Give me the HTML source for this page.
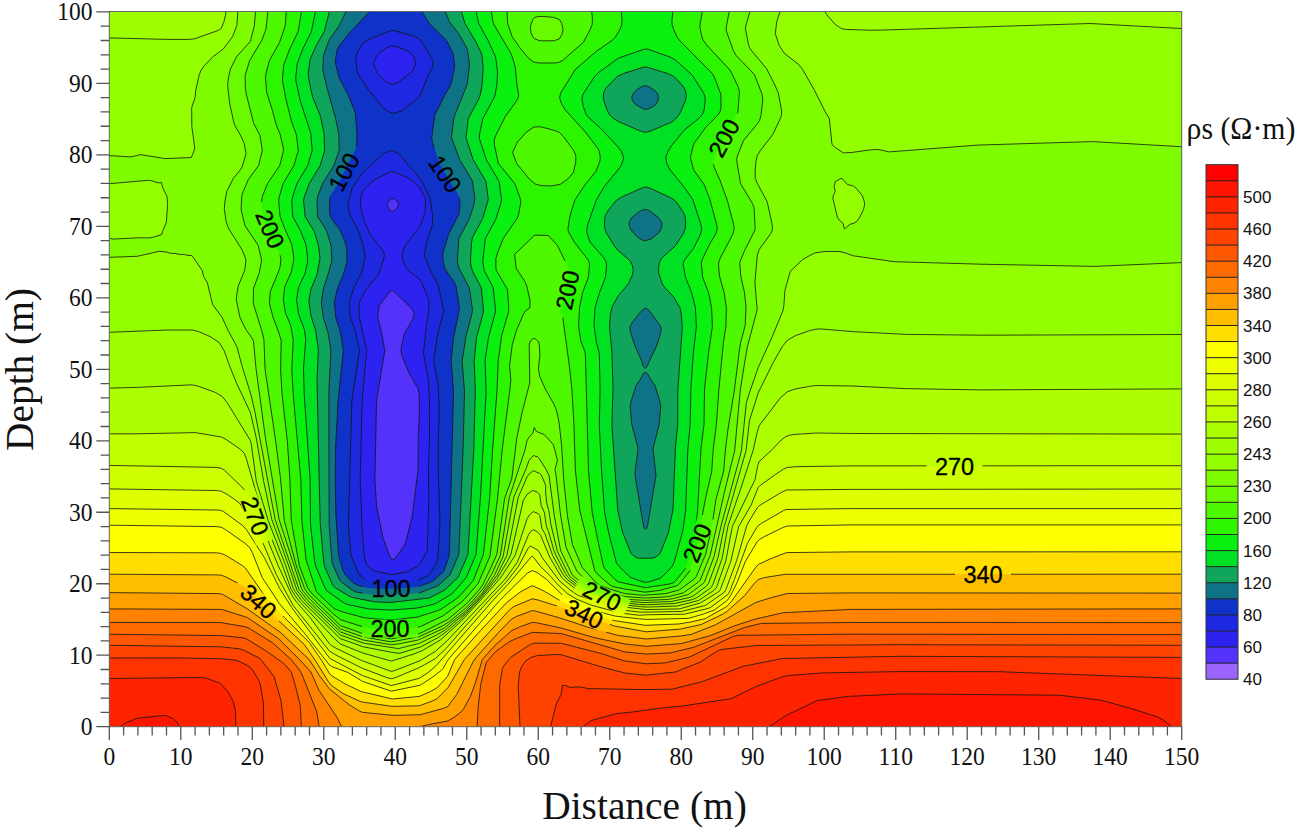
<!DOCTYPE html>
<html><head><meta charset="utf-8"><title>plot</title><style>
html,body{margin:0;padding:0;background:#fff}
body{width:1298px;height:832px;overflow:hidden;position:relative}
svg{position:absolute;left:0;top:0;display:block}
.tk{font-family:"Liberation Serif",serif;font-size:23.5px;fill:#111}
.ttl{font-family:"Liberation Serif",serif;font-size:39.4px;fill:#111}
.cbt{font-family:"Liberation Serif",serif;font-size:32px;fill:#111}
.cbl{font-family:"Liberation Sans",sans-serif;font-size:17px;fill:#111}
.cl{font-family:"Liberation Sans",sans-serif;font-size:23.5px;fill:#000;stroke:#000;stroke-width:0.3px}
</style></head><body>
<svg width="1298" height="832" viewBox="0 0 1298 832">
<defs><clipPath id="pc"><rect x="109.3" y="11.5" width="1072.4" height="715.2"/></clipPath>
<mask id="lm" maskUnits="userSpaceOnUse" x="0" y="0" width="1298" height="832"><rect x="0" y="0" width="1298" height="832" fill="#fff"/><rect x="926.6" y="457.6" width="56" height="18" fill="#000" transform="rotate(0 954.6 466.6)"/><rect x="955.0" y="566.0" width="56" height="18" fill="#000" transform="rotate(0 983 575)"/><rect x="227.0" y="507.0" width="56" height="18" fill="#000" transform="rotate(70 255 516)"/><rect x="230.5" y="592.5" width="56" height="18" fill="#000" transform="rotate(42 258.5 601.5)"/><rect x="316.0" y="163.0" width="56" height="18" fill="#000" transform="rotate(-62 344 172)"/><rect x="417.0" y="165.0" width="56" height="18" fill="#000" transform="rotate(56 445 174)"/><rect x="242.0" y="220.0" width="56" height="18" fill="#000" transform="rotate(67 270 229)"/><rect x="363.0" y="579.5" width="56" height="18" fill="#000" transform="rotate(0 391 588.5)"/><rect x="362.0" y="619.6" width="56" height="18" fill="#000" transform="rotate(0 390 628.6)"/><rect x="696.0" y="129.0" width="56" height="18" fill="#000" transform="rotate(-62 724 138)"/><rect x="539.5" y="281.0" width="56" height="18" fill="#000" transform="rotate(-78 567.5 290)"/><rect x="669.0" y="534.0" width="56" height="18" fill="#000" transform="rotate(-68 697 543)"/><rect x="574.0" y="587.0" width="56" height="18" fill="#000" transform="rotate(26 602 596)"/><rect x="556.0" y="605.0" width="56" height="18" fill="#000" transform="rotate(26 584 614)"/></mask></defs>
<g clip-path="url(#pc)">
<rect x="109.3" y="11.5" width="1072.4" height="715.2" fill="#5532fa"/>
<path fill="#2d23f0" d="M109.3 11.5L1181.3 11.5L1181.3 726.5L109.3 726.5L109.3 11.5ZM391.3 199L388.4 201.5L387.5 203.5L387.4 205.5L389.3 209.8L391.3 211.5L392.3 211.5L396 209.5L397.9 206.5L398.4 204.5L397.9 202.5L395.3 199.3L393.3 198.5L391.3 199ZM390.3 291.1L379.3 305.5L377.8 314.5L377.9 317.5L381.9 334.5L384.8 350.5L376.5 400.5L374.9 479.5L376.6 506.5L383.2 538.5L389.9 556.5L391.3 558.9L392.3 559.6L394.3 558.9L395.8 557.5L405 544.5L411.9 518.5L418.1 469.5L418.2 438.5L419.3 414.5L419.3 395.5L418.3 389L408.8 372.5L402.3 356.8L401 351.5L401.3 347L404.4 333.5L412.7 319.5L414.3 313.5L411.7 308.5L400.3 297.2L393.3 291.1L392.3 290.6L390.3 291.1Z"/>
<path fill="#1e28e1" d="M109.3 11.5L1181.3 11.5L1181.3 726.5L109.3 726.5L109.3 11.5ZM390.3 46.3L385.4 48.5L380.3 52.1L375.9 57.5L373.7 62.5L374.7 67.5L378.2 74.5L386.3 81.9L392.3 84.4L398.3 82.3L411.3 72.3L413.3 69.5L415.1 64.5L415.3 62.5L414.3 57.5L411.1 53.5L408.8 51.5L396.3 46.7L392.3 46L390.3 46.3ZM391.3 171.3L375.5 179.5L370 183.5L362.9 190.5L360.9 196.5L360.2 205.5L364.3 220.9L370.3 234.7L383 250.5L384.1 253.5L384.4 256.5L378.8 274.5L366.9 288.5L360.1 300.5L359.2 303.5L359.1 312.5L359.4 317.5L366.7 350.5L362.1 400.5L360.2 479.5L362.3 532.2L364.3 554.7L365.1 559.5L366.8 564.5L370.7 568.5L376.3 571.5L391.3 574.6L407.3 571.8L416.8 566.5L419.4 564.5L421.3 561.9L427.3 550.2L428.8 501.5L428.4 469.5L429.5 438.5L429.6 413.5L429.5 401.5L428.3 379.5L423.4 353.5L425.7 331.5L428.7 309.5L429 300.5L421.3 281.5L417.6 277.5L410.3 272.4L405.3 266.5L403.3 261.9L402.2 255.5L402.8 251.5L405.3 244.9L414.3 233.7L419.3 226.7L421.3 223L425.3 211.2L425.5 199.5L424.3 196.2L419.3 187L413.4 181.5L407.1 177.5L394.3 171.9L391.3 171.3Z"/>
<path fill="#0f32c8" d="M109.3 11.5L1181.3 11.5L1181.3 726.5L109.3 726.5L109.3 11.5ZM391.3 30.4L372.3 38.1L364.3 42.2L361.3 45.7L356.9 53.5L356 55.5L355.8 58.5L356.8 69.5L357.8 73.5L368.9 90.5L384.3 108.9L389.3 112L393.3 113.5L402.3 110.7L416.3 99.6L419.3 96.6L421.3 93L426.3 79.9L432.2 67.5L433.1 63.5L432.2 59.5L428.9 53.5L421.5 41.5L418.8 38.5L413.3 36L395.3 31L391.3 30.4ZM389.3 151.3L384.3 153.2L382.3 154.5L362.8 172.5L352.4 187.5L348.1 203.5L348.2 206.5L349.9 214.5L358.4 230.5L363.1 245.5L365.3 256.5L361.7 272.5L353.9 287.5L349.4 302.5L350.1 316.5L355.3 330.7L359.5 350.5L351.9 400.5L348.4 524.5L351.1 555.5L358.4 573.5L364.9 579.5L368.1 581.5L391.3 584.5L415.1 581.5L428.1 575.5L431.3 572.1L436.5 562.5L437.9 558.5L439.9 520.5L438.2 469.5L438.2 442.5L439.3 413.5L438.2 385.5L433.7 360.5L437 337.5L443.8 310.5L438.2 285.5L429.9 269.5L424.5 255.5L424.5 252.5L427.1 240.5L432.5 224.5L432.5 214.5L430.1 198.5L421.6 180.5L400.3 155.5L397.3 152.8L392.3 150.7L391.3 150.5L389.3 151.3Z"/>
<path fill="#0f7387" d="M109.3 11.5L369.7 11.5L348.3 34.2L338.7 46.5L337.2 49.5L335.3 60.5L335.7 64.5L339 77.5L347.9 94.5L355.3 112.5L357 134.5L356.5 145.5L355.9 148.5L340.3 179.5L330.5 195.5L329.6 199.5L329.6 212.5L330.3 216.3L332.1 219.5L340.3 230.4L344.9 241.5L346.4 246.5L347 258.5L346.7 262.5L343.3 274.5L337 289.5L334.4 302.5L335.7 317.5L340.4 332.5L343.3 350.5L338.2 399.5L335.5 449.5L335.2 480.5L335.9 515.5L338.6 555.5L343.3 571.3L345 574.5L353.3 582.9L357.3 585.1L369.3 588.2L391.3 588.8L417.3 587L432.3 581.6L443.7 571.5L448.3 558.5L449.4 553.5L453.5 391.5L451.2 360.5L453.6 337.5L459 311.5L459.4 307.5L455.9 285.5L454.4 282.5L445.3 269.5L443.2 262.5L442.8 255.5L443.6 250.5L448.5 234.5L458.8 214.5L460.1 202.5L459.4 197.5L457.5 193.5L451 183.5L439.9 164.5L432.8 143.5L431.7 138.5L434.7 115.5L444.6 95.5L450.9 84.5L454.3 69.3L454.6 64.5L453 53.5L446.5 40.5L429.3 23.5L421.8 11.5L1181.3 11.5L1181.3 726.5L109.3 726.5L109.3 11.5Z"/>
<path fill="#0fa55a" d="M109.3 11.5L346 11.5L338.7 26.5L329.4 39.5L323.4 55.5L322.8 70.5L327.7 90.5L335.9 119.5L338.7 133.5L339.3 149.5L334 165.5L323 182.5L317.7 196.5L317.1 200.5L317.5 216.5L325.2 228.5L327.1 232.5L331 245.5L331.7 258.5L331.6 261.5L328.9 271.5L323.3 289.1L321.3 302.5L323.3 317.5L328 332.5L330.9 350.5L328.9 390.5L328.9 450.5L329.2 524.5L331.5 556.5L332.3 563.5L339.4 579.5L342.1 582.5L353.3 590.8L356.3 592L375.3 595.3L390.3 595.9L419.3 593L438.3 585.6L450.2 574.5L458.8 554.5L463.1 449.5L464.5 391.5L462.2 361.5L465.7 337.5L472 313.5L472.5 309.5L469.2 287.5L459.6 269.5L457.7 263.5L457.5 258.5L458.9 238.5L469.6 218.5L474.5 202.5L475 198.5L472.3 180.8L459.6 159.5L451.5 137.5L453.9 117.5L467.2 84.5L469.5 65.5L468.3 55.2L467.3 49.5L466.1 46.5L458.5 33.5L449.3 21.5L445.3 11.5L1181.3 11.5L1181.3 726.5L109.3 726.5L109.3 11.5ZM642.3 86.4L637.3 89.3L634.9 91.5L632.6 94.5L631.9 96.5L631.8 98.5L633.5 102.5L635.6 104.5L642.3 108.4L645.3 109.4L647.3 109.2L652.3 107.1L655.8 104.5L658 100.5L658.4 96.5L657.4 93.5L656 91.5L650.3 87.5L646.3 85.7L642.3 86.4ZM644.3 209.4L640.3 210.9L631.8 217.5L629.5 221.5L628.9 224.5L630.7 229.5L633 232.5L639.3 238.4L642.3 240.1L645.3 240.8L651.3 238.9L659 232.5L661.3 228.5L662.1 223.5L660.3 219.5L658.4 217.5L649.3 210.7L646.3 209.5L644.3 209.4ZM644.3 308.5L640.9 311.5L632.3 322.5L630.4 325.5L629.8 327.5L630.4 331.5L634.8 345.5L641.3 360.1L643.3 366.3L645.3 368.5L647.3 366.2L649.3 361L656.4 346.5L660.6 333.5L661.3 329.5L661 327.5L659.4 324.5L649.2 310.5L646.3 308.2L644.3 308.5ZM645.3 372.4L644.3 372.6L644 373.5L643.3 373.7L639.6 380.5L636 385.5L630.8 402.5L630.2 406.5L631.8 424.5L638.1 448.5L635.1 471.5L635 475.5L643.6 526.5L644.3 528.5L645.3 529.3L646.6 528.5L647.6 525.5L656 475.5L653 448.5L659.2 424.5L660.7 406.5L660.2 402.5L655 385.5L651.3 380.5L648.3 375L646.3 372.6L645.3 372.4Z"/>
<path fill="#00e123" d="M109.3 11.5L329.3 11.5L324.3 31.4L315.7 46.5L310 59.5L308.2 74.5L308.6 78.5L312.4 96.5L320.5 116.5L324 133.5L324.6 150.5L320.2 165.5L309.3 183.4L304.4 196.5L303.5 200.5L305.1 216.5L314.3 231.5L318.5 245.5L320 258.5L317 274.5L310.8 289.5L308.8 301.5L311.1 316.5L315.6 330.5L318.4 349.5L317 380.5L320.2 523.5L323.7 562.5L324.6 566.5L332.8 585.5L334.9 587.5L348.3 595.7L352.3 597.5L375.3 601.9L390.3 602.5L429.3 598L444.3 590.3L458 577.5L468 554.5L473.8 449.5L475.3 390.5L474.2 360.5L476.6 337.5L483 313.5L483.5 309.5L481.2 287.5L472.7 271.5L471.1 266.5L470.5 261.5L471.5 242.5L472.5 237.5L482.7 218.5L488.3 199.5L486 181.5L473.1 159.5L466 137.5L468.3 118.5L479 98.5L480.4 94.5L482.1 84.5L483.2 68.5L482.2 56.5L481.1 52.5L475.2 40.5L465 23.5L461.3 11.5L1181.3 11.5L1181.3 726.5L109.3 726.5L109.3 11.5ZM643.3 67.3L623.4 73.5L617.3 76.4L605.6 88.5L603.7 92.5L603.2 97.5L604 101.5L607.7 111.5L609.3 114.5L612.3 117.5L618.3 121.5L640.3 131L645.3 132.3L650.3 131.2L670.7 122.5L673.9 120.5L678.5 115.5L680.3 112.5L685.3 101.1L686.3 95.5L685.7 91.5L684.1 87.5L677.1 79.5L673.3 76.1L667.7 73.5L648.3 67.5L645.3 67L643.3 67.3ZM643.3 187.4L621.3 197.2L616.3 200.3L608.3 210.4L605.3 215.5L604.6 219.5L604.5 225.5L605 229.5L606.1 232.5L614.3 245.8L617.3 249.8L628.3 259.2L630.4 261.5L632.4 265.5L633.2 270.5L632.1 275.5L628.6 283.5L618.3 295.7L612.2 306.5L610.7 312.5L609.5 325.5L611.9 352.5L613 387.5L611.9 425.5L617.8 510.5L622.6 532.5L631.3 553.8L635.3 557L638.3 558.2L652.3 558.2L655.3 557.3L658.3 555.2L660.3 552.9L661.3 550.6L668.3 532.9L673 509.5L675.4 448.5L677.7 424.5L677.9 389.5L682.3 327.5L681.1 312.5L679.9 307.5L673.3 296.4L665.6 288.5L662.6 284.5L658.8 273.5L658.5 267.5L659.4 262.5L661.4 258.5L675.3 245.9L683.4 233.5L685.3 228.8L685.6 220.5L684.9 215.5L683.5 212.5L677.3 203.4L674.3 200L670.2 197.5L649.3 187.9L646.3 187.1L643.3 187.4Z"/>
<path fill="#0af00f" d="M109.3 11.5L315.4 11.5L311.4 31.5L303 48.5L297.2 63.5L295.7 77.5L296 81.5L300.2 100.5L310.8 133.5L312.2 150.5L307.7 165.5L296.9 183.5L292.4 197.5L291.8 201.5L292.7 216.5L300.3 230.5L305.5 243.5L306.4 247.5L307.6 258.5L307.4 262.5L305 273.5L298.5 287.5L296.5 299.5L298.7 314.5L304.4 329.5L305.7 339.5L303.5 368.5L304.2 394.5L310.1 479.5L310.5 524.5L314.5 560.5L315.8 566.5L325.7 589.5L328.3 591.9L344.3 603.2L347.3 604.4L368.3 608.9L391.3 610.1L417.3 608L433.3 604.4L436.3 603.2L451 594.5L454.2 591.5L466.2 577.5L476 554.5L480.5 496.5L486.1 392.5L485.1 360.5L488.5 337.5L495 313.5L495.5 309.5L493.2 287.5L484.2 270.5L482.7 261.5L485.3 238.7L495.7 219.5L500.8 203.5L501.6 199.5L499.1 181.5L486.3 159.5L479.4 138.5L479.5 134.5L482.9 118.5L493.7 98.5L494.9 95.5L497 84.5L497.5 71.5L496 59.5L495 55.5L488.1 40.5L478.7 23.5L476.1 11.5L1181.3 11.5L1181.3 726.5L109.3 726.5L109.3 11.5ZM643.3 49.5L618.3 58.1L598.3 72.7L594.7 76.5L584 92.5L582.5 95.5L581.9 98.5L583.3 106.5L586.3 114.8L588.6 117.5L601.3 129L617.5 146.5L621.4 151.5L623.5 157.5L623 160.5L620.6 166.5L604.3 186.6L596.5 199.5L587.7 224.5L586.6 230.5L587.3 234.5L590.3 242.5L603.6 257.5L605.9 261.5L606.6 265.5L605.4 277.5L599.3 293.1L595 307.5L594 325.5L596.2 341.5L599.3 353.5L600.1 389.5L599.3 425.5L601.6 471.5L604.6 512.5L608.8 533.5L616.6 563.5L624 571.5L630.3 577.2L638.5 580.5L645.3 582.5L650.4 581.5L660.3 578.2L663.6 575.5L672.1 566.5L674.3 561.7L682.7 531.5L685.6 511.5L687.9 448.5L690.2 424.5L690.9 388.5L693.4 352.5L696.4 326.5L695.4 307.5L691.6 292.5L685.6 277.5L683.2 264.5L683.5 262.5L684.9 259.5L693.5 248.5L700.4 234.5L701.8 229.5L701 224.5L692.8 199.5L684.3 187.3L669.9 169.5L666.8 163.5L665.8 157.5L667.9 151.5L671.7 145.5L684.9 129.5L698.8 118.5L702.5 114.5L704.3 109.3L705.2 99.5L704.9 96.5L703.3 92.5L692.3 75.2L675.3 59.9L671.3 57.5L648.3 49.3L646.3 48.9L643.3 49.5Z"/>
<path fill="#2df500" d="M109.3 11.5L301.5 11.5L298.2 31.5L289.5 49.5L283.6 65.5L282.4 80.5L286 99.5L291.8 122.5L296.3 134.5L298.3 150.5L293.9 165.5L283.1 183.5L279.1 197.5L278.7 201.5L280.1 216.5L284.7 228.5L291.8 244.5L293.8 257.5L293.5 261.5L291.1 272.5L284.8 286.5L283.3 299.5L285.4 312.5L290.7 325.5L293.2 339.5L291.8 370.5L293.4 396.5L300.8 479.5L301.9 520.5L306 559.5L316.3 591.3L320.1 595.5L334.3 608.7L341.3 611.6L364.3 617.8L391.3 620L417.3 617.1L437.3 610.8L441.3 609L456.7 598.5L460.2 595.5L473.3 580.5L483.4 554.5L489.7 497.5L492.6 449.5L497 390.5L498.2 360.5L501.7 335.5L508.1 313.5L508.8 309.5L507.5 289.5L496.4 270.5L495.9 267.5L495.9 258.5L498 251.5L503.2 238.5L517.3 218.2L518.6 214.5L520.9 201.5L519.6 196.5L514.7 183.5L498.4 163.5L494.5 145.5L494.2 139.5L495.7 135.5L505.3 116.5L516.8 100.5L518.5 96.5L518.6 94.5L516.9 84.5L515.3 67.3L512.3 56.9L510.4 52.5L493.9 24.5L492.9 21.5L491.4 11.5L621.2 11.5L622 19.5L621.8 24.5L619.9 29.5L615.3 37.2L612 40.5L596 51.5L575.3 69.5L560.9 92.5L559.6 97.5L561.4 103.5L565.3 109.9L585.3 131.9L597.9 148.5L599.3 151.5L600.2 156.5L600.2 159.5L599.4 162.5L595.9 171.5L585.2 184.5L575.2 199.5L571.8 209.5L569.7 217.5L568 228.5L568.2 230.5L569.4 233.5L574.6 242.5L587.8 259.5L589.2 262.5L589.5 264.5L588.3 277.5L582.6 292.5L579.5 307.5L578.6 326.5L580.9 341.5L584.5 350.5L585.4 354.5L588.5 470.5L592.2 512.5L598.3 542.6L603.3 565.5L604.5 568.5L615.1 579.5L618.3 581.9L645.3 587.7L670.3 583.9L673.3 582.8L674.9 581.5L685.3 569L694.1 540.5L697.5 511.5L701 448.5L704 424.5L704.5 389.5L708.6 352.5L712.4 326.5L711.6 307.5L708.5 292.5L702.7 277.5L701.3 262.5L702.3 259.5L708.9 245.5L715.9 233.5L717.2 229.5L716.9 225.5L709.6 198.5L704.1 184.5L693.4 169.5L690.4 157.5L693.2 145.5L694.6 142.5L705.6 127.5L717.5 115.5L720.2 111.5L721 107.5L720.9 94.5L714.5 77.5L712.3 73.5L679.6 40.5L677.4 37.5L673.7 29.5L672.1 24.5L671.9 21.5L672.9 11.5L1181.3 11.5L1181.3 726.5L109.3 726.5L109.3 11.5Z"/>
<path fill="#4ef800" d="M109.3 11.5L286.2 11.5L285.4 23.5L284.3 28.5L279.5 42.5L269.4 60.5L266 73.5L265.5 77.5L266.7 92.5L272.3 110L276.1 124.5L280.2 134.5L283.3 148.2L283.4 151.5L279.7 165.5L267.5 183.5L262.3 196.5L261.7 200.5L262.4 210.5L267.8 233.5L269.1 236.5L279.3 253.5L280.9 258.5L280.3 265.6L279.4 269.5L270.3 291.5L269.4 303.5L273.1 317.5L278.4 331.5L281.2 340.5L280.6 370.5L282.2 395.5L287.4 441.5L289.9 479.5L291.2 519.5L292.3 526.5L299.3 565.6L307.9 588.5L312.8 594.5L332.3 613L340.3 619.7L363.3 626.9L391.3 631.6L420.5 626.5L443.3 615.7L461.3 602.2L464.3 599.4L478.1 583.5L489.9 556.5L497.4 499.5L502.3 448.8L509.9 389.5L510.8 380.5L509.6 365.5L512.3 344.5L516.4 330.5L523.3 314.5L525.3 311.1L529.2 308.5L530 306.5L530 300.5L526.9 286.5L524.9 281.5L516.3 268.5L514.6 254.5L534.2 235.5L535.3 235.2L548.3 235.5L557.3 245.3L567.3 265.6L568.3 274.6L559.8 312.5L562.3 316L562.9 318.5L569.3 365.5L571.9 389.5L573.9 424.5L575.4 470.5L579.8 510.5L594.7 570.5L596.9 573.5L602.3 578.5L609.3 584.5L612.3 586.5L625.3 589.2L645.3 592.2L660.3 590.3L677.3 585.6L679.6 583.5L690.1 570.5L697.6 544.5L700.3 526.5L705.3 499.6L711.7 471.5L713.3 448.5L716.4 424.5L718.8 390.5L723.4 342.5L725.9 326.5L726.4 307.5L724.1 292.5L719.6 276.5L718.6 266.5L718.7 262.5L720.1 258.5L732.7 234.5L734.2 229.5L733.9 225.5L727.4 200.5L719.7 179.5L714.3 167.5L713.3 161.5L715 155.5L721.7 141.5L729.9 125.5L737.9 112.5L739.4 92.5L738.5 87.5L730.3 70.3L713.5 52.5L705.5 43.5L702.8 39.5L701.3 34.4L699.8 26.5L702.3 11.5L1181.3 11.5L1181.3 726.5L109.3 726.5L109.3 11.5ZM507 11.5L591.7 11.5L592.3 23.5L590.7 28.5L583.3 42.4L563.3 60L559.3 62.4L556.3 62.9L537.3 62.8L533.3 61.8L528.3 57.9L520.3 48.3L512.5 37.5L507.7 23.5L507 11.5ZM533.2 127.5L535.3 126.9L541.3 126.9L554.5 130.5L559.4 132.5L563.3 136.4L572.9 149.5L575.1 153.5L575.9 156.5L575.7 162.5L573.3 172.6L568.3 178.5L560.3 184.3L551.3 185.9L541.3 185.6L535.3 184.1L529.3 179L516.7 163.5L512.6 152.5L516.7 143.5L518.3 141.1L526.3 132.2L533.2 127.5Z"/>
<path fill="#69fa00" d="M109.3 11.5L267.9 11.5L265.9 29.5L261.7 40.5L249.7 60.5L245.1 75.5L245.4 88.5L246.3 94.3L253.7 123.5L260 135.5L262.3 150.5L258.6 165.5L248.3 179.6L242.4 193.5L241.6 197.5L241.1 209.5L244.9 225.5L258.2 245.5L261.3 258.5L261.3 262.5L259 273.5L253.5 288.5L253.3 303.5L261.7 330.5L263.9 339.5L265.1 369.5L275.7 441.5L280.5 478.5L284.3 520.5L296.2 565.5L304.5 588.5L307.3 592.6L315.3 601.2L340.3 625.6L362.7 633.5L391.3 638.9L419.8 633.5L447.8 619.5L467.3 603.1L479.3 589.6L482.3 585.6L489.3 571.1L496.8 554.5L504.6 498.5L511.8 478.5L516.9 437.5L522.1 412.5L529.8 382.5L529.2 344.5L530.3 341.1L533.3 338.5L535.3 338.9L536.3 339.6L538.2 341.5L539.2 343.5L539.9 355.5L538.4 368.5L539.8 376.5L545.3 389L554.1 404.5L556.2 409.5L558.1 417.5L559.2 423.5L561.6 445.5L563.7 479.5L567.4 515.5L572.4 544.5L582.3 567.6L596.3 582.9L599.3 585.2L610.3 589.2L624.3 593.5L643.3 595.3L665.3 593.7L679.3 590L693.6 579.5L696.3 576.5L705.9 553.5L711.9 526.5L715.9 499.5L723.6 471.5L725.7 447.5L727.8 430.5L734.3 390.7L739.5 349.5L740.6 342.5L745.2 325.5L746 306.5L744.5 292.5L740.8 276.5L739.7 262.5L744.6 250.5L754.3 231.5L755.1 228.5L754.1 207.5L752.3 203.3L740.5 183.5L736.8 161.5L736.8 157.5L743.5 140.5L757.3 123.9L759.6 120.5L761 115.5L762.7 100.5L762.7 97.5L761.8 93.5L754.4 74.5L736.2 55.5L733.3 50.5L726.2 30.5L726.4 26.5L729.2 11.5L1181.3 11.5L1181.3 726.5L109.3 726.5L109.3 11.5ZM538.4 16.5L542.3 16.4L553.3 17.3L559.5 19.5L561.7 23.5L563 29.5L561.9 34.5L559.3 38.9L554.3 40.7L542.3 40.9L539.1 40.5L534.1 38.5L532.3 35.9L531 32.5L530.4 28.5L530.8 24.5L533.3 18.7L534.6 17.5L538.4 16.5Z"/>
<path fill="#80fc00" d="M109.3 11.5L255.5 11.5L254.4 25.5L250.3 41.5L236.7 56.5L230.6 68.5L228.7 76.5L227.7 83.5L227.8 87.5L229.7 103.5L233.6 121.5L234.8 125.5L240.3 134.9L244.2 143.5L246 153.5L242.3 166.5L240.3 169.8L233.3 178.5L226.7 191.5L224.9 201.5L224.3 208.5L225.9 220.5L227.7 226.5L229.1 229.5L242.3 250.2L245.9 259.5L245.2 267.5L244.3 271.2L238.1 286.5L236.5 296.5L236.4 300.5L240 317.5L245.8 329.5L252.3 338.5L253.5 341.5L256 368.5L265.5 438.5L279.1 519.5L301.5 588.5L303.3 591.5L310.1 599.5L340.3 628.9L363.3 637L391.3 641.9L419.3 636.7L443.4 625.5L449.6 621.5L464.3 609.3L470.3 603.4L483.3 588.5L492 573.5L500.3 555.5L509.3 497.5L524.8 450.5L527.1 440.5L529.3 436.8L532.6 433.5L534.3 427.6L536.4 431.5L544.3 434.6L553.3 444.5L557.3 459.5L557.2 461.5L554.9 469.5L555.8 473.5L560.6 515.5L566.1 547.5L577 571.5L591.7 585.5L596.3 588.7L625.3 596.7L645.3 598L658.3 597.4L668.3 596.7L683.3 592.9L697.9 582.5L700.3 580L710.1 555.5L724.6 491.5L734.7 450.5L740.3 390L744.3 364.8L747.3 347.3L757.2 309.5L754.9 282.5L757.3 255.2L759.2 249.5L770.8 233.5L771.8 231.5L772.5 228.5L772 223.5L767.1 201.5L757.4 183.5L755.3 178.5L755.1 169.5L756.2 160.5L757.4 155.5L760.4 150.5L772.8 134.5L780.8 117.5L781.6 114.5L781.6 110.5L778.2 92.5L773.7 82.5L766.5 68.5L751.4 50.5L749.5 47.5L748.5 44.5L745.4 28.5L746.3 23.6L750 11.5L1181.3 11.5L1181.3 726.5L109.3 726.5L109.3 11.5Z"/>
<path fill="#92fe00" d="M109.3 11.5L237.9 11.5L236.8 25.5L232.7 36.5L223.3 49L213.3 56.4L204.4 65.5L200.9 70.5L199.3 74.5L195.7 90.5L195.1 97.5L191.7 107.5L191.8 126.5L194.7 147.5L194.3 150.2L191.3 157.5L165.3 158.6L140.3 154.6L131.3 156.9L109.3 155.6L109.3 11.5ZM780.1 11.5L1181.3 11.5L1181.3 146.7L1092.3 141.6L977.3 145.1L889.3 151.9L879.3 149.7L876.3 149.5L869.3 150L851.4 152.5L843.3 152.9L835.3 147.5L832 144.5L829.3 118.5L825.3 111.9L814.6 90.5L802.7 69.5L798.7 64.5L784.5 53.5L779.2 45.5L775.3 33.5L776.8 21.5L780.1 11.5ZM840.9 178.5L842.3 178.6L847.4 184.5L853.3 186L856.3 188.3L862.2 195.5L864 200.5L864.7 204.5L863.5 209.5L859.6 217.5L857.3 220.9L854.3 223.1L849.4 224.5L845.3 228.5L844.3 228.7L843.2 223.5L839.3 220.1L837.5 217.5L832.9 198.5L833.3 195.7L835.2 191.5L834.2 186.5L835.3 181.5L840.9 178.5ZM144.8 180.5L150.5 180.5L158.3 182.9L161.4 182.5L162.6 187.5L167 196.5L167.6 205.5L166.5 221.5L164.3 228L162.4 231.5L161.8 234.5L150.3 237.8L137.3 237.8L114.3 239.1L110.7 238.5L109.3 237.2L109.3 183.7L144.8 180.5ZM157.3 251.5L163.2 251.5L170.3 253.3L176.1 253.5L178.3 254.3L184.4 254.5L186.3 255.2L191.3 255.5L193.3 257.4L202.3 270.7L203.5 276.5L207.3 282.7L212.6 304.5L222.2 317.5L228.1 330.5L236 344.5L242.3 366.9L251.2 395.5L254.8 411.5L275.1 519.5L299.6 590.5L307.7 600.5L340.3 631.9L363.3 640L391.3 644.8L398.3 644L418.3 640L444.3 628.1L464.9 611.5L482.3 592.9L494.4 575.5L503.1 556.5L513.7 497.5L526.2 468.5L529 460.5L533.3 455.6L537.3 456.7L539.3 458.6L546.1 469.5L549 475.5L554.3 515.9L560.6 550.5L572.3 575.1L588.5 588.5L593.3 591.5L625.3 599.3L645.3 600.4L667.3 599.5L672.3 598.8L688.3 594.6L703.2 583.5L704.6 581.5L714.1 556.5L720.9 526.5L741.3 451.5L746.4 402.5L749.9 391.5L758.2 367.5L772.3 336.6L783 310.5L783.8 306.5L784.9 290.5L790.2 271.5L802.6 259.5L813.3 253.6L815.3 252.9L824.3 251.5L839.3 251.5L844 252.5L853.3 255.8L894.3 261.7L981.3 264.2L1094.3 266.4L1181.3 262.6L1181.3 726.5L109.3 726.5L109.3 257.3L137.3 256.3L157.3 251.5Z"/>
<path fill="#9eff00" d="M109.3 11.5L226 11.5L225.1 17.5L222.3 26.3L221.1 28.5L218.3 30.4L194.3 38.9L173.3 39.4L109.3 37.9L109.3 11.5ZM824.9 11.5L1181.3 11.5L1181.3 28.5L1090.3 23.5L883.3 30L870.3 30.2L845.3 29.4L841.3 28.5L835.3 24.5L826.6 14.5L824.9 11.5ZM814 329.5L821.3 328.9L852.3 331.6L906.3 334.4L980.3 335.2L1181.3 334.5L1181.3 726.5L109.3 726.5L109.3 332.3L168.3 330L192.3 330L198.3 331.5L210 336.5L219.2 342.5L224.3 351.1L229.8 366.5L236.7 383.5L250.4 412.5L256.3 438.3L263.5 480.5L271.8 519.5L288.2 564.5L297 590.5L305.6 601.5L340.3 635L363.3 643.1L398.3 648.6L419.3 643.4L436.3 635.1L445.3 630L465.3 613L481.7 595.5L486.4 589.5L496.9 575.5L506.9 555.5L518.2 497.5L527.3 476.3L529.3 473.9L533.3 470.7L539.3 473.3L541.3 475L545.3 484.3L545.7 486.5L545.6 492.5L546.8 503.5L548.8 510.5L550.9 524.5L557.4 551.5L567.6 572.5L570 576.5L583.6 587.5L592.3 592.7L624.3 601.1L643.3 602.6L671.3 601.5L689.3 597.5L693.9 595.5L706 586.5L708.5 583.5L718.1 557.5L724.3 526.5L746.1 450.5L749.5 420.5L758.8 391.5L774.3 360.5L781.3 348.2L787.3 340.3L795.8 335.5L814 329.5Z"/>
<path fill="#acff00" d="M173.9 385.5L193.3 384.9L213.3 391.7L221 395.5L227.3 402.9L249.3 438.4L251.3 444.2L256.1 480.5L267.9 519.5L285.3 564.5L293.8 589.5L300.7 599.5L340.3 638.6L363.3 646.8L390.3 652.1L399.3 653.4L420.3 647.1L438.3 637.5L446.3 631.7L458.3 621.4L466.4 613.5L483 595.5L497.1 578.5L506.8 562.5L510.9 554.5L523.3 500.3L527.3 494.1L532.3 490.7L533.3 490.6L537.3 492.2L539.7 494.5L541.2 505.5L544.4 512.5L546.4 526.5L548.5 531.5L553.9 550.5L556 555.5L565.3 573.5L567.3 576.5L570.2 579.5L581.7 588.5L591.7 593.5L624.3 602.9L639.3 604.5L646.3 604.8L674.5 603.5L692.3 599.6L697.1 597.5L711.2 587.5L712.9 584.5L722.1 558.5L728.1 525.5L740.8 488.5L753.1 450.5L757.4 431.5L759.3 425.5L780.3 397.9L787.3 391.8L794.3 389.2L811.3 386L817.3 385.5L852.3 386L905.3 388.6L979.3 389.9L1181.3 388.9L1181.3 726.5L109.3 726.5L109.3 388.1L137.3 387.4L173.9 385.5Z"/>
<path fill="#beff00" d="M189 432.5L196.3 432.8L221.3 437L226.3 439.6L237.9 447.5L243.7 452.5L246.3 458.6L264.2 520.5L282.3 565L291.2 589.5L294.9 595.5L299.3 601.3L334.3 638.5L340.3 644L363.3 653.2L391.3 661.1L414.3 653.9L423.3 650.1L440.3 640L461.3 621.1L484.9 595.5L500 578.5L502.8 574.5L515 555.5L527.3 518.3L529.3 515.2L533.3 511.6L538.3 513.7L539.8 515.5L541.9 528.5L544.8 533.5L552.7 555.5L562.9 574.5L567.2 579.5L581.3 590.4L590.3 594.1L603 597.5L624.3 604.8L640.3 606.7L647.3 607.1L677.3 606L698.5 600.5L714.3 590.1L716.5 587.5L725.9 560.5L732.3 526.5L755.1 479.5L757.7 465.5L759.2 461.5L771.2 450.5L781.3 440L785.3 436.9L788.6 435.5L793.3 434.5L816.3 433L853.3 433.5L1181.3 434.1L1181.3 726.5L109.3 726.5L109.3 433.8L138.3 433.8L189 432.5Z"/>
<path fill="#ceff00" d="M109.3 465.5L216.3 467.4L221.3 468.3L224.3 470.1L243.3 488.5L246.3 492L257.3 514.2L277.7 564.5L291.9 595.5L297 602.5L310.3 617.9L329.3 643.6L331.3 645.5L337.3 648.9L361.3 660.4L391.3 671.4L394.9 670.5L420.4 660.5L435.2 651.5L447.4 640.5L505.3 579L517.3 562.3L528.6 534.5L530.3 532L533.3 529.7L537.3 531.8L540.7 535.5L549.9 557.5L561.7 577.5L565.3 580.9L579.3 591.8L591.3 595.9L601.2 598.5L625.3 607.2L646.3 609.6L679.3 608.9L700.3 603L717.5 592.5L720 590.5L730.8 561.5L738.7 526.5L751.3 504.7L758.2 487.5L760.3 485.3L775.3 474.6L783.3 469.2L787.3 467.5L795.3 466.7L850.3 465.9L1181.3 465.7L1181.3 726.5L109.3 726.5L109.3 465.5Z"/>
<path fill="#deff00" d="M109.3 489.5L109.3 488.9L110.3 488.9L216.3 490.5L221.3 491.2L227.3 494.4L238.9 502.5L241.3 505.5L261.5 539.5L276.3 574.6L293.3 605.7L329.3 650.9L334.3 654.2L362.3 668.3L388.3 678.1L391.3 678.7L393.3 678.4L399.3 676L418.3 668L424.3 664.9L435.3 658.6L446.3 648.3L462.3 629.7L489.6 599.5L506.7 581.5L518.3 566.5L528.3 548.1L530.3 545.9L538.3 550.5L542.1 557.5L559.3 580.7L570.3 590.2L578.3 595.5L624.3 610.3L640.3 612.2L681.3 611.5L705.3 605.5L724.3 592.3L725.9 589.5L736.7 560.5L746.8 525.5L750.3 519.1L757.3 507.7L759.3 505.6L780.3 493L786.3 490L850.3 489.4L1181.3 489L1181.3 726.5L109.3 726.5L109.3 489.5Z"/>
<path fill="#eeff00" d="M109.3 509.5L109.3 508.6L110.3 508.6L216.3 510L220.3 510.3L223.3 511.4L242.6 525.5L246.3 529.4L264.3 557.6L279.7 588.5L291.7 607.5L329.9 658.5L362.3 675.5L391.3 685.6L419.3 678.3L428.2 672.5L436.3 665.5L492.3 601.2L508.8 583.5L531.5 556.5L532.3 556.3L533.3 557L540.6 566.5L550.8 576.5L556.6 583.5L567.2 593.5L576.3 599L591.3 605.2L621.3 613.2L639.3 615.3L646.3 614.8L684.3 614.2L705.3 609.2L710.3 607.6L727.9 594.5L729.3 592.3L734.3 579.6L747.3 543.6L756.7 527.5L758.3 525.5L761.3 523.4L783.3 510.7L786.3 509.5L850.3 508.6L1181.3 508.6L1181.3 726.5L109.3 726.5L109.3 509.5Z"/>
<path fill="#ffff00" d="M109.3 525.5L216.3 526.6L221.3 527.3L224.3 528.8L245.2 543.5L249.6 547.5L252.3 552.6L262.3 577.7L279.3 603.5L303.9 632.5L329.3 664.9L332.3 666.8L348 672.5L362.3 681.3L391.3 691.2L420.3 685.2L431.3 678L441.3 670.4L443.1 668.5L447.6 660.5L449.9 657.5L499.7 600.5L527.3 573.2L532.3 570.6L537.3 572.6L546.6 579.5L565.3 597.9L590.3 609.8L615.3 616.1L639.3 618.9L647.3 619.4L688.3 618.4L703.3 614.1L714.3 610L727.3 600.4L730.6 595.5L737.1 582.5L745.3 561.5L757.3 541.6L759.4 539.5L764.6 536.5L782.9 527.5L787.3 526L851.3 524.9L1181.3 524.9L1181.3 726.5L109.3 726.5L109.3 525.5Z"/>
<path fill="#ffde00" d="M786.7 552.5L850.3 551.9L1181.3 551.8L1181.3 726.5L109.3 726.5L109.3 552.5L216.3 552.8L221.3 553.5L225.3 555.1L242.3 565.5L245.3 567.9L265.9 597.5L284.4 617.5L309.3 642.5L321.3 659.8L329.3 673.2L331.3 675.5L345.3 684L361.3 691.6L392.3 699L419.3 696.4L430.5 691.5L437.3 687.6L447.5 676.5L454.6 659.5L480.3 630.8L506.7 602.5L520.3 592L531.3 586L533.3 586L544.3 591.2L563.2 602.5L589.3 612.9L614.3 620.6L645.3 625.3L680.3 623.9L705.3 618.6L726.8 606.5L732.1 600.5L755.3 567.9L758.2 564.5L772.3 558.1L786.7 552.5Z"/>
<path fill="#ffbe00" d="M109.3 574.5L217.3 574.9L221.3 575.2L225.3 576.7L248.3 588.5L259.3 602.5L304.3 644.5L316 661.5L328.3 681.5L331.5 685.5L342.9 693.5L361.3 701.9L392.3 706.4L419.3 705.8L432.3 701L437.3 698.5L448.1 687.5L464.4 659.5L507.3 612.3L511.3 608.3L513.9 606.5L532.3 598.8L538.3 600.1L583.8 614.5L614.3 626L646.3 631.8L680.3 629.1L701.3 624.5L723.3 613.9L726.3 612L744.7 595.5L755.3 582.3L758.3 579.5L764.3 577.6L785.3 574.3L1181.3 574.2L1181.3 726.5L109.3 726.5L109.3 574.5Z"/>
<path fill="#ffa000" d="M109.3 593.5L109.3 592.6L111.3 592.6L218.3 593.6L222.3 594.2L247.3 608.9L280.6 632.5L309.3 659.7L320.1 676.5L329.3 688.8L349.3 704.8L359.3 711L362.3 712.3L393.3 715.4L420.3 714.7L443.3 708.4L447.8 706.5L456.7 694.5L473.2 661.5L477 656.5L498.3 632.7L511.3 619.3L516.3 616.5L532.3 610.6L535.3 611L559.3 617.8L590.3 627.9L618.5 635.5L646.3 639L680.3 636L691 634.5L715.3 624.9L755.7 602.5L770.3 597.9L787.3 593.5L851.3 592.9L1181.3 593.1L1181.3 726.5L109.3 726.5L109.3 593.5Z"/>
<path fill="#ff8200" d="M109.3 609.5L109.3 608.9L220.3 609.4L223.3 609.9L247.3 617.5L278.3 638.5L299.5 659.5L309.6 670.5L311.3 672.9L319.1 690.5L337.1 717.5L341.5 726.5L109.3 726.5L109.3 609.5ZM848.2 609.5L1181.3 608.9L1181.3 726.5L420.5 726.5L427.3 724.8L448.3 720.9L454.3 717.1L461.3 711.8L463.3 709.3L470.4 696.5L475.3 683.2L482.3 659.5L495.3 645.1L511.9 630.5L531.3 622.5L535.3 622.6L560.3 627.8L594.3 637.6L618.3 642.7L626.3 644.2L646.3 646.3L681.6 643.5L710.3 635.6L734.3 625.9L755.3 619.1L781.3 612.9L848.2 609.5Z"/>
<path fill="#ff6a00" d="M109.3 622.5L220.3 622.5L243.3 626.4L248.3 627.8L272.3 642.6L291.3 659.6L299.8 670.5L302 674.5L316.7 711.5L319.1 726.5L109.3 726.5L109.3 622.5ZM844.5 622.5L1181.3 622.6L1181.3 726.5L477.1 726.5L478.2 706.5L480.9 683.5L486.3 662.4L495.7 651.5L509.7 641.5L531.3 632.6L535.3 632.2L561 633.5L624.3 651.8L647.3 654.1L670.3 652.9L694.3 647.2L741.7 628.5L760 623.5L844.5 622.5Z"/>
<path fill="#ff5600" d="M109.3 634.5L221.3 635.6L242.3 637.7L246.3 638.7L266.3 651.1L282.4 662.5L286.3 666L291.3 672.1L295.3 685.3L300.3 705.7L301.4 726.5L109.3 726.5L109.3 634.5ZM800.8 634.5L851.3 634.2L1181.3 634.6L1181.3 726.5L499.6 726.5L499.7 684.5L502.6 667.5L511.3 656.9L532.3 643.5L536.3 643L561.3 643.3L600.3 653.3L624.3 660.9L647.3 663.8L665.3 662.9L689.3 657.1L717.4 643.5L732.9 636.5L736.2 635.5L800.8 634.5Z"/>
<path fill="#ff4300" d="M109.3 645.5L220.3 646.8L239.3 648.8L243.3 650L260 658.5L274 676.5L281 700.5L284 726.5L109.3 726.5L109.3 645.5ZM755.8 645.5L900.3 644.7L1181.3 645.3L1181.3 726.5L520 726.5L518.2 685.5L519.3 673.3L521.3 667.3L524.3 662.5L529.1 658.5L533.3 656.4L540.3 655.2L560.3 654.6L599.3 666.3L624.3 672.9L646.3 675.2L676.3 671.6L700.3 662.1L716.3 651.6L721.1 649.5L755.8 645.5Z"/>
<path fill="#ff3300" d="M888.8 656.5L1181.3 657.4L1181.3 726.5L550.6 726.5L556.4 703.5L561.2 694.5L562.3 685.3L565.5 685.5L570.3 687.4L580.3 686.9L588.3 688.6L645.3 689.6L672.3 689.1L701.3 681.9L743.3 666.3L782.3 658.5L888.8 656.5ZM109.3 658.5L109.3 658L178.3 657.9L219.3 658.7L234.3 660L239.3 661.4L247.5 665.5L251.3 668.2L257.3 677.7L260.1 683.5L263.4 702.5L263.8 726.5L109.3 726.5L109.3 658.5Z"/>
<path fill="#ff2300" d="M845 672.5L900.3 671.6L999.3 671.7L1181.3 678.5L1181.3 726.5L583.2 726.5L591.3 720.5L617 713.5L629.3 712.4L666 707.5L680.3 706.3L729.3 699L732.3 698.1L753.7 687.5L785.3 675.9L821.3 673L845 672.5ZM174.8 677.5L204.3 677.8L207.5 678.5L217.3 682.3L219.3 682.5L227.3 691L233.3 701.3L235.6 711.5L235.8 726.5L109.3 726.5L109.3 678.5L174.8 677.5Z"/>
<path fill="#ff1400" d="M887.5 694.5L901.3 693.9L1062.6 695.5L1100.3 700.1L1130.3 708.2L1159.3 717.5L1165.3 721.4L1171.6 726.5L769.2 726.5L786.3 715.4L817.3 700.5L848.3 696.4L887.5 694.5ZM162.9 715.5L167.3 716L173.3 718.7L176.1 721.5L179.7 726.5L120.3 726.5L125.3 723.1L137.3 718.2L162.9 715.5Z"/>
</g>
<g clip-path="url(#pc)"><path mask="url(#lm)" d="M391.3 199L388.4 201.5L387.5 203.5L387.4 205.5L389.3 209.8L391.3 211.5L392.3 211.5L396 209.5L397.9 206.5L398.4 204.5L397.9 202.5L395.3 199.3L393.3 198.5L391.3 199M390.3 291.1L379.3 305.5L377.8 314.5L377.9 317.5L381.9 334.5L384.8 350.5L376.5 400.5L374.9 479.5L376.6 506.5L383.2 538.5L389.9 556.5L391.3 558.9L392.3 559.6L394.3 558.9L395.8 557.5L405 544.5L411.9 518.5L418.1 469.5L418.2 438.5L419.3 414.5L419.3 395.5L418.3 389L408.8 372.5L402.3 356.8L401 351.5L401.3 347L404.4 333.5L412.7 319.5L414.3 313.5L411.7 308.5L400.3 297.2L393.3 291.1L392.3 290.6L390.3 291.1M390.3 46.3L385.4 48.5L380.3 52.1L375.9 57.5L373.7 62.5L374.7 67.5L378.2 74.5L386.3 81.9L392.3 84.4L398.3 82.3L411.3 72.3L413.3 69.5L415.1 64.5L415.3 62.5L414.3 57.5L411.1 53.5L408.8 51.5L396.3 46.7L392.3 46L390.3 46.3M391.3 171.3L375.5 179.5L370 183.5L362.9 190.5L360.9 196.5L360.2 205.5L364.3 220.9L370.3 234.7L383 250.5L384.1 253.5L384.4 256.5L378.8 274.5L366.9 288.5L360.1 300.5L359.2 303.5L359.1 312.5L359.4 317.5L366.7 350.5L362.1 400.5L360.2 479.5L362.3 532.2L364.3 554.7L365.1 559.5L366.8 564.5L370.7 568.5L376.3 571.5L391.3 574.6L407.3 571.8L416.8 566.5L419.4 564.5L421.3 561.9L427.3 550.2L428.8 501.5L428.4 469.5L429.5 438.5L429.6 413.5L429.5 401.5L428.3 379.5L423.4 353.5L425.7 331.5L428.7 309.5L429 300.5L421.3 281.5L417.6 277.5L410.3 272.4L405.3 266.5L403.3 261.9L402.2 255.5L402.8 251.5L405.3 244.9L414.3 233.7L419.3 226.7L421.3 223L425.3 211.2L425.5 199.5L424.3 196.2L419.3 187L413.4 181.5L407.1 177.5L394.3 171.9L391.3 171.3M391.3 30.4L372.3 38.1L364.3 42.2L361.3 45.7L356.9 53.5L356 55.5L355.8 58.5L356.8 69.5L357.8 73.5L368.9 90.5L384.3 108.9L389.3 112L393.3 113.5L402.3 110.7L416.3 99.6L419.3 96.6L421.3 93L426.3 79.9L432.2 67.5L433.1 63.5L432.2 59.5L428.9 53.5L421.5 41.5L418.8 38.5L413.3 36L395.3 31L391.3 30.4M389.3 151.3L384.3 153.2L382.3 154.5L362.8 172.5L352.4 187.5L348.1 203.5L348.2 206.5L349.9 214.5L358.4 230.5L363.1 245.5L365.3 256.5L361.7 272.5L353.9 287.5L349.4 302.5L350.1 316.5L355.3 330.7L359.5 350.5L351.9 400.5L348.4 524.5L351.1 555.5L358.4 573.5L364.9 579.5L368.1 581.5L391.3 584.5L415.1 581.5L428.1 575.5L431.3 572.1L436.5 562.5L437.9 558.5L439.9 520.5L438.2 469.5L438.2 442.5L439.3 413.5L438.2 385.5L433.7 360.5L437 337.5L443.8 310.5L438.2 285.5L429.9 269.5L424.5 255.5L424.5 252.5L427.1 240.5L432.5 224.5L432.5 214.5L430.1 198.5L421.6 180.5L400.3 155.5L397.3 152.8L392.3 150.7L391.3 150.5L389.3 151.3M369.7 11.5L348.3 34.2L338.7 46.5L337.2 49.5L335.3 60.5L335.7 64.5L339 77.5L347.9 94.5L355.3 112.5L357 134.5L356.5 145.5L355.9 148.5L340.3 179.5L330.5 195.5L329.6 199.5L329.6 212.5L330.3 216.3L332.1 219.5L340.3 230.4L344.9 241.5L346.4 246.5L347 258.5L346.7 262.5L343.3 274.5L337 289.5L334.4 302.5L335.7 317.5L340.4 332.5L343.3 350.5L338.2 399.5L335.5 449.5L335.2 480.5L335.9 515.5L338.6 555.5L343.3 571.3L345 574.5L353.3 582.9L357.3 585.1L369.3 588.2L391.3 588.8L417.3 587L432.3 581.6L443.7 571.5L448.3 558.5L449.4 553.5L453.5 391.5L451.2 360.5L453.6 337.5L459 311.5L459.4 307.5L455.9 285.5L454.4 282.5L445.3 269.5L443.2 262.5L442.8 255.5L443.6 250.5L448.5 234.5L458.8 214.5L460.1 202.5L459.4 197.5L457.5 193.5L451 183.5L439.9 164.5L432.8 143.5L431.7 138.5L434.7 115.5L444.6 95.5L450.9 84.5L454.3 69.3L454.6 64.5L453 53.5L446.5 40.5L429.3 23.5L421.8 11.5M346 11.5L338.7 26.5L329.4 39.5L323.4 55.5L322.8 70.5L327.7 90.5L335.9 119.5L338.7 133.5L339.3 149.5L334 165.5L323 182.5L317.7 196.5L317.1 200.5L317.5 216.5L325.2 228.5L327.1 232.5L331 245.5L331.7 258.5L331.6 261.5L328.9 271.5L323.3 289.1L321.3 302.5L323.3 317.5L328 332.5L330.9 350.5L328.9 390.5L328.9 450.5L329.2 524.5L331.5 556.5L332.3 563.5L339.4 579.5L342.1 582.5L353.3 590.8L356.3 592L375.3 595.3L390.3 595.9L419.3 593L438.3 585.6L450.2 574.5L458.8 554.5L463.1 449.5L464.5 391.5L462.2 361.5L465.7 337.5L472 313.5L472.5 309.5L469.2 287.5L459.6 269.5L457.7 263.5L457.5 258.5L458.9 238.5L469.6 218.5L474.5 202.5L475 198.5L472.3 180.8L459.6 159.5L451.5 137.5L453.9 117.5L467.2 84.5L469.5 65.5L468.3 55.2L467.3 49.5L466.1 46.5L458.5 33.5L449.3 21.5L445.3 11.5M642.3 86.4L637.3 89.3L634.9 91.5L632.6 94.5L631.9 96.5L631.8 98.5L633.5 102.5L635.6 104.5L642.3 108.4L645.3 109.4L647.3 109.2L652.3 107.1L655.8 104.5L658 100.5L658.4 96.5L657.4 93.5L656 91.5L650.3 87.5L646.3 85.7L642.3 86.4M644.3 209.4L640.3 210.9L631.8 217.5L629.5 221.5L628.9 224.5L630.7 229.5L633 232.5L639.3 238.4L642.3 240.1L645.3 240.8L651.3 238.9L659 232.5L661.3 228.5L662.1 223.5L660.3 219.5L658.4 217.5L649.3 210.7L646.3 209.5L644.3 209.4M644.3 308.5L640.9 311.5L632.3 322.5L630.4 325.5L629.8 327.5L630.4 331.5L634.8 345.5L641.3 360.1L643.3 366.3L645.3 368.5L647.3 366.2L649.3 361L656.4 346.5L660.6 333.5L661.3 329.5L661 327.5L659.4 324.5L649.2 310.5L646.3 308.2L644.3 308.5M645.3 372.4L644.3 372.6L644 373.5L643.3 373.7L639.6 380.5L636 385.5L630.8 402.5L630.2 406.5L631.8 424.5L638.1 448.5L635.1 471.5L635 475.5L643.6 526.5L644.3 528.5L645.3 529.3L646.6 528.5L647.6 525.5L656 475.5L653 448.5L659.2 424.5L660.7 406.5L660.2 402.5L655 385.5L651.3 380.5L648.3 375L646.3 372.6L645.3 372.4M329.3 11.5L324.3 31.4L315.7 46.5L310 59.5L308.2 74.5L308.6 78.5L312.4 96.5L320.5 116.5L324 133.5L324.6 150.5L320.2 165.5L309.3 183.4L304.4 196.5L303.5 200.5L305.1 216.5L314.3 231.5L318.5 245.5L320 258.5L317 274.5L310.8 289.5L308.8 301.5L311.1 316.5L315.6 330.5L318.4 349.5L317 380.5L320.2 523.5L323.7 562.5L324.6 566.5L332.8 585.5L334.9 587.5L348.3 595.7L352.3 597.5L375.3 601.9L390.3 602.5L429.3 598L444.3 590.3L458 577.5L468 554.5L473.8 449.5L475.3 390.5L474.2 360.5L476.6 337.5L483 313.5L483.5 309.5L481.2 287.5L472.7 271.5L471.1 266.5L470.5 261.5L471.5 242.5L472.5 237.5L482.7 218.5L488.3 199.5L486 181.5L473.1 159.5L466 137.5L468.3 118.5L479 98.5L480.4 94.5L482.1 84.5L483.2 68.5L482.2 56.5L481.1 52.5L475.2 40.5L465 23.5L461.3 11.5M643.3 67.3L623.4 73.5L617.3 76.4L605.6 88.5L603.7 92.5L603.2 97.5L604 101.5L607.7 111.5L609.3 114.5L612.3 117.5L618.3 121.5L640.3 131L645.3 132.3L650.3 131.2L670.7 122.5L673.9 120.5L678.5 115.5L680.3 112.5L685.3 101.1L686.3 95.5L685.7 91.5L684.1 87.5L677.1 79.5L673.3 76.1L667.7 73.5L648.3 67.5L645.3 67L643.3 67.3M643.3 187.4L621.3 197.2L616.3 200.3L608.3 210.4L605.3 215.5L604.6 219.5L604.5 225.5L605 229.5L606.1 232.5L614.3 245.8L617.3 249.8L628.3 259.2L630.4 261.5L632.4 265.5L633.2 270.5L632.1 275.5L628.6 283.5L618.3 295.7L612.2 306.5L610.7 312.5L609.5 325.5L611.9 352.5L613 387.5L611.9 425.5L617.8 510.5L622.6 532.5L631.3 553.8L635.3 557L638.3 558.2L652.3 558.2L655.3 557.3L658.3 555.2L660.3 552.9L661.3 550.6L668.3 532.9L673 509.5L675.4 448.5L677.7 424.5L677.9 389.5L682.3 327.5L681.1 312.5L679.9 307.5L673.3 296.4L665.6 288.5L662.6 284.5L658.8 273.5L658.5 267.5L659.4 262.5L661.4 258.5L675.3 245.9L683.4 233.5L685.3 228.8L685.6 220.5L684.9 215.5L683.5 212.5L677.3 203.4L674.3 200L670.2 197.5L649.3 187.9L646.3 187.1L643.3 187.4M315.4 11.5L311.4 31.5L303 48.5L297.2 63.5L295.7 77.5L296 81.5L300.2 100.5L310.8 133.5L312.2 150.5L307.7 165.5L296.9 183.5L292.4 197.5L291.8 201.5L292.7 216.5L300.3 230.5L305.5 243.5L306.4 247.5L307.6 258.5L307.4 262.5L305 273.5L298.5 287.5L296.5 299.5L298.7 314.5L304.4 329.5L305.7 339.5L303.5 368.5L304.2 394.5L310.1 479.5L310.5 524.5L314.5 560.5L315.8 566.5L325.7 589.5L328.3 591.9L344.3 603.2L347.3 604.4L368.3 608.9L391.3 610.1L417.3 608L433.3 604.4L436.3 603.2L451 594.5L454.2 591.5L466.2 577.5L476 554.5L480.5 496.5L486.1 392.5L485.1 360.5L488.5 337.5L495 313.5L495.5 309.5L493.2 287.5L484.2 270.5L482.7 261.5L485.3 238.7L495.7 219.5L500.8 203.5L501.6 199.5L499.1 181.5L486.3 159.5L479.4 138.5L479.5 134.5L482.9 118.5L493.7 98.5L494.9 95.5L497 84.5L497.5 71.5L496 59.5L495 55.5L488.1 40.5L478.7 23.5L476.1 11.5M643.3 49.5L618.3 58.1L598.3 72.7L594.7 76.5L584 92.5L582.5 95.5L581.9 98.5L583.3 106.5L586.3 114.8L588.6 117.5L601.3 129L617.5 146.5L621.4 151.5L623.5 157.5L623 160.5L620.6 166.5L604.3 186.6L596.5 199.5L587.7 224.5L586.6 230.5L587.3 234.5L590.3 242.5L603.6 257.5L605.9 261.5L606.6 265.5L605.4 277.5L599.3 293.1L595 307.5L594 325.5L596.2 341.5L599.3 353.5L600.1 389.5L599.3 425.5L601.6 471.5L604.6 512.5L608.8 533.5L616.6 563.5L624 571.5L630.3 577.2L638.5 580.5L645.3 582.5L650.4 581.5L660.3 578.2L663.6 575.5L672.1 566.5L674.3 561.7L682.7 531.5L685.6 511.5L687.9 448.5L690.2 424.5L690.9 388.5L693.4 352.5L696.4 326.5L695.4 307.5L691.6 292.5L685.6 277.5L683.2 264.5L683.5 262.5L684.9 259.5L693.5 248.5L700.4 234.5L701.8 229.5L701 224.5L692.8 199.5L684.3 187.3L669.9 169.5L666.8 163.5L665.8 157.5L667.9 151.5L671.7 145.5L684.9 129.5L698.8 118.5L702.5 114.5L704.3 109.3L705.2 99.5L704.9 96.5L703.3 92.5L692.3 75.2L675.3 59.9L671.3 57.5L648.3 49.3L646.3 48.9L643.3 49.5M301.5 11.5L298.2 31.5L289.5 49.5L283.6 65.5L282.4 80.5L286 99.5L291.8 122.5L296.3 134.5L298.3 150.5L293.9 165.5L283.1 183.5L279.1 197.5L278.7 201.5L280.1 216.5L284.7 228.5L291.8 244.5L293.8 257.5L293.5 261.5L291.1 272.5L284.8 286.5L283.3 299.5L285.4 312.5L290.7 325.5L293.2 339.5L291.8 370.5L293.4 396.5L300.8 479.5L301.9 520.5L306 559.5L316.3 591.3L320.1 595.5L334.3 608.7L341.3 611.6L364.3 617.8L391.3 620L417.3 617.1L437.3 610.8L441.3 609L456.7 598.5L460.2 595.5L473.3 580.5L483.4 554.5L489.7 497.5L492.6 449.5L497 390.5L498.2 360.5L501.7 335.5L508.1 313.5L508.8 309.5L507.5 289.5L496.4 270.5L495.9 267.5L495.9 258.5L498 251.5L503.2 238.5L517.3 218.2L518.6 214.5L520.9 201.5L519.6 196.5L514.7 183.5L498.4 163.5L494.5 145.5L494.2 139.5L495.7 135.5L505.3 116.5L516.8 100.5L518.5 96.5L518.6 94.5L516.9 84.5L515.3 67.3L512.3 56.9L510.4 52.5L493.9 24.5L492.9 21.5L491.4 11.5M621.2 11.5L622 19.5L621.8 24.5L619.9 29.5L615.3 37.2L612 40.5L596 51.5L575.3 69.5L560.9 92.5L559.6 97.5L561.4 103.5L565.3 109.9L585.3 131.9L597.9 148.5L599.3 151.5L600.2 156.5L600.2 159.5L599.4 162.5L595.9 171.5L585.2 184.5L575.2 199.5L571.8 209.5L569.7 217.5L568 228.5L568.2 230.5L569.4 233.5L574.6 242.5L587.8 259.5L589.2 262.5L589.5 264.5L588.3 277.5L582.6 292.5L579.5 307.5L578.6 326.5L580.9 341.5L584.5 350.5L585.4 354.5L588.5 470.5L592.2 512.5L598.3 542.6L603.3 565.5L604.5 568.5L615.1 579.5L618.3 581.9L645.3 587.7L670.3 583.9L673.3 582.8L674.9 581.5L685.3 569L694.1 540.5L697.5 511.5L701 448.5L704 424.5L704.5 389.5L708.6 352.5L712.4 326.5L711.6 307.5L708.5 292.5L702.7 277.5L701.3 262.5L702.3 259.5L708.9 245.5L715.9 233.5L717.2 229.5L716.9 225.5L709.6 198.5L704.1 184.5L693.4 169.5L690.4 157.5L693.2 145.5L694.6 142.5L705.6 127.5L717.5 115.5L720.2 111.5L721 107.5L720.9 94.5L714.5 77.5L712.3 73.5L679.6 40.5L677.4 37.5L673.7 29.5L672.1 24.5L671.9 21.5L672.9 11.5M286.2 11.5L285.4 23.5L284.3 28.5L279.5 42.5L269.4 60.5L266 73.5L265.5 77.5L266.7 92.5L272.3 110L276.1 124.5L280.2 134.5L283.3 148.2L283.4 151.5L279.7 165.5L267.5 183.5L262.3 196.5L261.7 200.5L262.4 210.5L267.8 233.5L269.1 236.5L279.3 253.5L280.9 258.5L280.3 265.6L279.4 269.5L270.3 291.5L269.4 303.5L273.1 317.5L278.4 331.5L281.2 340.5L280.6 370.5L282.2 395.5L287.4 441.5L289.9 479.5L291.2 519.5L292.3 526.5L299.3 565.6L307.9 588.5L312.8 594.5L332.3 613L340.3 619.7L363.3 626.9L391.3 631.6L420.5 626.5L443.3 615.7L461.3 602.2L464.3 599.4L478.1 583.5L489.9 556.5L497.4 499.5L502.3 448.8L509.9 389.5L510.8 380.5L509.6 365.5L512.3 344.5L516.4 330.5L523.3 314.5L525.3 311.1L529.2 308.5L530 306.5L530 300.5L526.9 286.5L524.9 281.5L516.3 268.5L514.6 254.5L534.2 235.5L535.3 235.2L548.3 235.5L557.3 245.3L567.3 265.6L568.3 274.6L559.8 312.5L562.3 316L562.9 318.5L569.3 365.5L571.9 389.5L573.9 424.5L575.4 470.5L579.8 510.5L594.7 570.5L596.9 573.5L602.3 578.5L609.3 584.5L612.3 586.5L625.3 589.2L645.3 592.2L660.3 590.3L677.3 585.6L679.6 583.5L690.1 570.5L697.6 544.5L700.3 526.5L705.3 499.6L711.7 471.5L713.3 448.5L716.4 424.5L718.8 390.5L723.4 342.5L725.9 326.5L726.4 307.5L724.1 292.5L719.6 276.5L718.6 266.5L718.7 262.5L720.1 258.5L732.7 234.5L734.2 229.5L733.9 225.5L727.4 200.5L719.7 179.5L714.3 167.5L713.3 161.5L715 155.5L721.7 141.5L729.9 125.5L737.9 112.5L739.4 92.5L738.5 87.5L730.3 70.3L713.5 52.5L705.5 43.5L702.8 39.5L701.3 34.4L699.8 26.5L702.3 11.5M591.7 11.5L592.4 18.5L592.2 24.5L590.2 29.5L583.3 42.4L562.3 60.7L558.3 62.6L552.3 63L539.3 63L534.3 62.2L532.3 61.3L527.3 56.8L519.7 47.5L512 36.5L507.7 23.5L507 11.5M533.2 127.5L535.3 126.9L541.3 126.9L554.5 130.5L559.4 132.5L563.3 136.4L572.9 149.5L575.1 153.5L575.9 156.5L575.7 162.5L573.3 172.6L568.3 178.5L560.3 184.3L551.3 185.9L541.3 185.6L535.3 184.1L529.3 179L516.7 163.5L512.6 152.5L516.7 143.5L518.3 141.1L526.3 132.2L533.2 127.5M267.9 11.5L265.9 29.5L261.7 40.5L249.7 60.5L245.1 75.5L245.4 88.5L246.3 94.3L253.7 123.5L260 135.5L262.3 150.5L258.6 165.5L248.3 179.6L242.4 193.5L241.6 197.5L241.1 209.5L244.9 225.5L258.2 245.5L261.3 258.5L261.3 262.5L259 273.5L253.5 288.5L253.3 303.5L261.7 330.5L263.9 339.5L265.1 369.5L275.7 441.5L280.5 478.5L284.3 520.5L296.2 565.5L304.5 588.5L307.3 592.6L315.3 601.2L340.3 625.6L362.7 633.5L391.3 638.9L419.8 633.5L447.8 619.5L467.3 603.1L479.3 589.6L482.3 585.6L489.3 571.1L496.8 554.5L504.6 498.5L511.8 478.5L516.9 437.5L522.1 412.5L529.8 382.5L529.2 344.5L530.3 341.1L533.3 338.5L535.3 338.9L536.3 339.6L538.2 341.5L539.2 343.5L539.9 355.5L538.4 368.5L539.8 376.5L545.3 389L554.1 404.5L556.2 409.5L558.1 417.5L559.2 423.5L561.6 445.5L563.7 479.5L567.4 515.5L572.4 544.5L582.3 567.6L596.3 582.9L599.3 585.2L610.3 589.2L624.3 593.5L643.3 595.3L665.3 593.7L679.3 590L693.6 579.5L696.3 576.5L705.9 553.5L711.9 526.5L715.9 499.5L723.6 471.5L725.7 447.5L727.8 430.5L734.3 390.7L739.5 349.5L740.6 342.5L745.2 325.5L746 306.5L744.5 292.5L740.8 276.5L739.7 262.5L744.6 250.5L754.3 231.5L755.1 228.5L754.1 207.5L752.3 203.3L740.5 183.5L736.8 161.5L736.8 157.5L743.5 140.5L757.3 123.9L759.6 120.5L761 115.5L762.7 100.5L762.7 97.5L761.8 93.5L754.4 74.5L736.2 55.5L733.3 50.5L726.2 30.5L726.4 26.5L729.2 11.5M538.4 16.5L542.3 16.4L553.3 17.3L559.5 19.5L561.7 23.5L563 29.5L561.9 34.5L559.3 38.9L554.3 40.7L542.3 40.9L539.1 40.5L534.1 38.5L532.3 35.9L531 32.5L530.4 28.5L530.8 24.5L533.3 18.7L534.6 17.5L538.4 16.5M255.5 11.5L254.4 25.5L250.3 41.5L236.7 56.5L230.6 68.5L228.7 76.5L227.7 83.5L227.8 87.5L229.7 103.5L233.6 121.5L234.8 125.5L240.3 134.9L244.2 143.5L246 153.5L242.3 166.5L240.3 169.8L233.3 178.5L226.7 191.5L224.9 201.5L224.3 208.5L225.9 220.5L227.7 226.5L229.1 229.5L242.3 250.2L245.9 259.5L245.2 267.5L244.3 271.2L238.1 286.5L236.5 296.5L236.4 300.5L240 317.5L245.8 329.5L252.3 338.5L253.5 341.5L256 368.5L265.5 438.5L279.1 519.5L301.5 588.5L303.3 591.5L310.1 599.5L340.3 628.9L363.3 637L391.3 641.9L419.3 636.7L443.4 625.5L449.6 621.5L464.3 609.3L470.3 603.4L483.3 588.5L492 573.5L500.3 555.5L509.3 497.5L524.8 450.5L527.1 440.5L529.3 436.8L532.6 433.5L534.3 427.6L536.4 431.5L544.3 434.6L553.3 444.5L557.3 459.5L557.2 461.5L554.9 469.5L555.8 473.5L560.6 515.5L566.1 547.5L577 571.5L591.7 585.5L596.3 588.7L625.3 596.7L645.3 598L658.3 597.4L668.3 596.7L683.3 592.9L697.9 582.5L700.3 580L710.1 555.5L724.6 491.5L734.7 450.5L740.3 390L744.3 364.8L747.3 347.3L757.2 309.5L754.9 282.5L757.3 255.2L759.2 249.5L770.8 233.5L771.8 231.5L772.5 228.5L772 223.5L767.1 201.5L757.4 183.5L755.3 178.5L755.1 169.5L756.2 160.5L757.4 155.5L760.4 150.5L772.8 134.5L780.8 117.5L781.6 114.5L781.6 110.5L778.2 92.5L773.7 82.5L766.5 68.5L751.4 50.5L749.5 47.5L748.5 44.5L745.4 28.5L746.3 23.6L750 11.5M237.9 11.5L236.8 25.5L232.7 36.5L223.3 49L213.3 56.4L204.4 65.5L200.9 70.5L199.3 74.5L195.7 90.5L195.1 97.5L191.7 107.5L191.8 126.5L194.7 147.5L194.3 150.2L191.3 157.5L165.3 158.6L140.3 154.6L131.3 156.9L109.3 155.6M1181.3 146.7L1092.3 141.6L977.3 145.1L889.3 151.9L879.3 149.7L876.3 149.5L869.3 150L851.4 152.5L843.3 152.9L835.3 147.5L832 144.5L829.3 118.5L825.3 111.9L814.6 90.5L802.7 69.5L798.7 64.5L784.5 53.5L779.2 45.5L775.3 33.5L776.8 21.5L780.1 11.5M840.9 178.5L842.3 178.6L847.4 184.5L853.3 186L856.3 188.3L862.2 195.5L864 200.5L864.7 204.5L863.5 209.5L859.6 217.5L857.3 220.9L854.3 223.1L849.4 224.5L845.3 228.5L844.3 228.7L843.2 223.5L839.3 220.1L837.5 217.5L832.9 198.5L833.3 195.7L835.2 191.5L834.2 186.5L835.3 181.5L840.9 178.5M109.3 183.7L148.3 180.3L150.5 180.5L158.3 182.9L161.4 182.5L162.6 187.5L167 196.5L167.6 204.5L166.3 222.6L162.4 231.5L161.8 234.5L152.2 237.5L149.3 237.9L137.3 237.8L113.3 239.1L110.7 238.5L109.3 237.2M109.3 257.3L137.3 256.3L159.3 251.3L166.3 252L170.3 253.3L176.1 253.5L178.3 254.3L184.4 254.5L186.3 255.2L191.5 255.5L193.3 257.4L202.3 270.7L203.5 276.5L207.3 282.7L212.6 304.5L222.3 317.7L228.1 330.5L236.8 346.5L242.2 366.5L251.2 395.5L254.8 411.5L275.1 519.5L299 589.5L307.7 600.5L340.3 631.9L363.3 640L391.3 644.8L398.3 644L418.3 640L444.3 628.1L464.9 611.5L482.3 592.9L494.4 575.5L503.1 556.5L513.7 497.5L526.2 468.5L529 460.5L533.3 455.6L537.3 456.7L539.3 458.6L546.1 469.5L549 475.5L554.3 515.9L560.6 550.5L572.3 575.1L588.5 588.5L593.3 591.5L625.3 599.3L645.3 600.4L667.3 599.5L672.3 598.8L688.3 594.6L703.2 583.5L704.6 581.5L714.1 556.5L720.9 526.5L741.3 451.5L746.4 402.5L749.9 391.5L758.2 367.5L772.3 336.6L783 310.5L783.8 306.5L784.9 290.5L790.2 271.5L802.6 259.5L813.3 253.6L815.3 252.9L824.3 251.5L839.3 251.5L844 252.5L853.3 255.8L894.3 261.7L981.3 264.2L1094.3 266.4L1181.3 262.6M226 11.5L225.5 15.5L223.7 22.5L221.1 28.5L218 30.5L194.3 38.9L188.3 39.4L167.3 39.4L109.3 37.9M1181.3 28.5L1090.3 23.5L883.3 30L870.3 30.2L845.3 29.4L841.3 28.5L835.3 24.5L826.6 14.5L824.9 11.5M109.3 332.3L168.3 330L192.3 330L198.3 331.5L210 336.5L219.2 342.5L224.3 351.1L229.8 366.5L236.7 383.5L250.4 412.5L256.3 438.3L263.5 480.5L271.8 519.5L288.2 564.5L297 590.5L305.6 601.5L340.3 635L363.3 643.1L398.3 648.6L419.3 643.4L436.3 635.1L445.3 630L465.3 613L481.7 595.5L486.4 589.5L496.9 575.5L506.9 555.5L518.2 497.5L527.3 476.3L529.3 473.9L533.3 470.7L539.3 473.3L541.3 475L545.3 484.3L545.7 486.5L545.6 492.5L546.8 503.5L548.8 510.5L550.9 524.5L557.4 551.5L567.6 572.5L570 576.5L583.6 587.5L592.3 592.7L624.3 601.1L643.3 602.6L671.3 601.5L689.5 597.5L693.9 595.5L706.3 586.2L708.5 583.5L718.1 557.5L724.3 526.5L746.1 450.5L749.5 420.5L758.3 392.6L773.3 362.3L782.3 346.6L787.3 340.3L795.8 335.5L810.3 330.4L815.3 329.3L820.3 328.9L852.3 331.6L906.3 334.4L980.3 335.2L1181.3 334.5M109.3 388.1L137.3 387.4L192.3 384.8L198.3 386.2L215.3 392.4L222.3 396.6L227.3 402.9L250.4 440.5L251.3 444.2L256.3 481.2L268.2 520.5L285.3 564.5L293.4 588.5L295 591.5L302.5 601.5L340.3 638.6L363.3 646.8L390.3 652.1L399.3 653.4L420.3 647.1L438.3 637.5L446.3 631.7L458.3 621.4L466.4 613.5L483 595.5L497.1 578.5L506.8 562.5L510.9 554.5L523.3 500.3L527.3 494.1L532.3 490.7L533.3 490.6L537.3 492.2L539.7 494.5L541.2 505.5L544.4 512.5L546.4 526.5L548.5 531.5L553.9 550.5L556 555.5L565.3 573.5L567.3 576.5L570.2 579.5L581.7 588.5L591.7 593.5L624.3 602.9L639.3 604.5L646.3 604.8L674.5 603.5L692.3 599.6L697.1 597.5L711.2 587.5L712.9 584.5L722.1 558.5L728.1 525.5L740.8 488.5L753.1 450.5L757.4 431.5L759.3 425.5L780.3 397.9L787.3 391.8L794.3 389.2L811.3 386L817.3 385.5L852.3 386L905.3 388.6L979.3 389.9L1181.3 388.9M109.3 433.8L137.3 433.8L195.3 432.6L221.3 437L226.3 439.6L240.7 449.5L244.3 453.4L246.3 458.6L264.2 520.5L282.3 565L291.2 589.5L295.6 596.5L300.3 602.4L334.3 638.5L340.3 644L363.3 653.2L391.3 661.1L414.3 653.9L423.3 650.1L440.3 640L461.3 621.1L484.9 595.5L500 578.5L502.8 574.5L515 555.5L527.3 518.3L529.3 515.2L533.3 511.6L538.3 513.7L539.8 515.5L541.9 528.5L544.8 533.5L552.7 555.5L562.9 574.5L567.2 579.5L581.3 590.4L590.3 594.1L603 597.5L624.3 604.8L640.3 606.7L647.3 607.1L677.3 606L698.5 600.5L714.3 590.1L716.5 587.5L725.9 560.5L732.3 526.5L755.1 479.5L757.7 465.5L759.2 461.5L771.2 450.5L781.3 440L785.3 436.9L788.6 435.5L793.3 434.5L816.3 433L853.3 433.5L1181.3 434.1M109.3 465.4L216.3 467.4L221.3 468.3L224.3 470.1L243.3 488.5L246.3 492L257.3 514.2L277.7 564.5L291.9 595.5L297 602.5L310.3 617.9L329.3 643.6L331.3 645.5L337.3 648.9L361.3 660.4L391.3 671.4L394.9 670.5L420.4 660.5L435.2 651.5L447.4 640.5L505.3 579L517.3 562.3L528.6 534.5L530.3 532L533.3 529.7L537.3 531.8L540.7 535.5L549.9 557.5L561.7 577.5L565.3 580.9L579.3 591.8L591.3 595.9L601.2 598.5L625.3 607.2L646.3 609.6L679.3 608.9L700.3 603L717.5 592.5L720 590.5L730.8 561.5L738.7 526.5L751.3 504.7L758.2 487.5L760.3 485.3L775.3 474.6L783.3 469.2L787.3 467.5L795.3 466.7L850.3 465.9L1181.3 465.7M109.3 488.9L216.3 490.5L221.3 491.2L227.3 494.4L238.9 502.5L241.3 505.5L261.5 539.5L276.3 574.6L293.3 605.7L329.3 650.9L334.3 654.2L362.3 668.3L388.3 678.1L391.3 678.7L393.3 678.4L399.3 676L418.3 668L424.3 664.9L435.3 658.6L446.3 648.3L462.3 629.7L489.6 599.5L506.7 581.5L518.3 566.5L528.3 548.1L530.3 545.9L538.3 550.5L542.1 557.5L559.3 580.7L570.3 590.2L578.3 595.5L624.3 610.3L640.3 612.2L681.3 611.5L705.3 605.5L724.3 592.3L725.9 589.5L736.7 560.5L746.8 525.5L750.3 519.1L757.3 507.7L759.3 505.6L780.3 493L786.3 490L850.3 489.4L1181.3 489M109.3 508.6L216.3 510L220.3 510.3L223.3 511.4L242.6 525.5L246.3 529.4L264.3 557.6L279.7 588.5L291.7 607.5L329.9 658.5L362.3 675.5L391.3 685.6L419.3 678.3L428.2 672.5L436.3 665.5L492.3 601.2L508.8 583.5L531.5 556.5L532.3 556.3L533.3 557L540.6 566.5L550.8 576.5L556.6 583.5L567.2 593.5L576.3 599L591.3 605.2L621.3 613.2L639.3 615.3L646.3 614.8L684.3 614.2L705.3 609.2L710.3 607.6L727.9 594.5L729.3 592.3L734.3 579.6L747.3 543.6L756.7 527.5L758.3 525.5L761.3 523.4L783.3 510.7L786.3 509.5L850.3 508.6L1181.3 508.6M109.3 525.2L216.3 526.6L221.3 527.3L224.3 528.8L245.2 543.5L249.6 547.5L252.3 552.6L262.3 577.7L279.3 603.5L303.9 632.5L329.3 664.9L332.3 666.8L348 672.5L362.3 681.3L391.3 691.2L420.3 685.2L431.3 678L441.3 670.4L443.1 668.5L447.6 660.5L449.9 657.5L499.7 600.5L527.3 573.2L532.3 570.6L537.3 572.6L546.6 579.5L565.3 597.9L590.3 609.8L615.3 616.1L639.3 618.9L647.3 619.4L688.3 618.4L703.3 614.1L714.3 610L727.3 600.4L730.6 595.5L737.1 582.5L745.3 561.5L757.3 541.6L759.4 539.5L764.6 536.5L782.9 527.5L787.3 526L851.3 524.9L1181.3 524.9M109.3 552.5L216.3 552.8L221.3 553.5L225.3 555.1L242.3 565.5L245.3 567.9L265.9 597.5L284.4 617.5L309.3 642.5L321.3 659.8L329.3 673.2L331.3 675.5L345.3 684L361.3 691.6L392.3 699L419.3 696.4L430.5 691.5L437.3 687.6L447.5 676.5L454.6 659.5L480.3 630.8L506.7 602.5L520.3 592L531.3 586L533.3 586L544.3 591.2L563.2 602.5L589.3 612.9L614.3 620.6L645.3 625.3L678.3 624L691.3 621.9L705.3 618.6L726.8 606.5L732.1 600.5L755.3 567.9L758.2 564.5L770.3 558.9L786.3 552.6L850.3 551.9L1181.3 551.8M109.3 574.2L217.3 574.9L221.3 575.2L225.3 576.7L248.3 588.5L259.3 602.5L304.3 644.5L316 661.5L328.3 681.5L331.5 685.5L342.9 693.5L361.3 701.9L392.3 706.4L419.3 705.8L432.3 701L437.3 698.5L448.1 687.5L464.4 659.5L507.3 612.3L511.3 608.3L513.9 606.5L532.3 598.8L538.3 600.1L583.8 614.5L614.3 626L646.3 631.8L680.3 629.1L701.3 624.5L723.3 613.9L726.3 612L744.7 595.5L755.3 582.3L758.3 579.5L764.3 577.6L785.3 574.3L1181.3 574.2M109.3 592.6L218.3 593.6L222.3 594.2L247.3 608.9L280.6 632.5L309.3 659.7L320.1 676.5L329.3 688.8L349.3 704.8L359.3 711L362.3 712.3L393.3 715.4L420.3 714.7L443.3 708.4L447.8 706.5L456.7 694.5L473.2 661.5L477 656.5L498.3 632.7L511.3 619.3L516.3 616.5L532.3 610.6L535.3 611L559.3 617.8L590.3 627.9L618.5 635.5L646.3 639L680.3 636L691 634.5L715.3 624.9L755.7 602.5L770.3 597.9L787.3 593.5L851.3 592.9L1181.3 593.1M109.3 608.9L220.3 609.4L223.3 609.9L247.3 617.5L278.3 638.5L299.5 659.5L309.6 670.5L311.3 672.9L319.1 690.5L337.1 717.5L341.5 726.5M420.5 726.5L427.3 724.8L448.3 720.9L454.3 717.1L461.3 711.8L463.3 709.3L470.4 696.5L475.3 683.2L482.3 659.5L495.3 645.1L511.9 630.5L519.3 627.1L532.3 622.4L536.3 622.7L560.3 627.8L594 637.5L603 639.5L625.3 644L646.3 646.3L681.3 643.6L710.3 635.6L734.3 625.9L755.3 619.1L783.3 612.7L851.3 609.4L1181.3 608.9M109.3 622.4L220.3 622.5L243.3 626.4L248.3 627.8L272.3 642.6L291.3 659.6L299.8 670.5L302 674.5L316.7 711.5L319.1 726.5M477.1 726.5L478.2 706.5L480.9 683.5L486.3 662.4L495.7 651.5L509.7 641.5L516.2 638.5L532.3 632.4L561 633.5L624.3 651.8L646.3 654.1L670.3 652.9L693.3 647.4L744.3 627.6L761.3 623.4L850.3 622.5L1181.3 622.6M109.3 634.2L221.3 635.6L242.3 637.7L246.3 638.7L266.3 651.1L282.4 662.5L286.3 666L291.3 672.1L295.3 685.3L300.3 705.7L301.4 726.5M499.6 726.5L499.7 684.5L502.6 667.5L508.8 659.5L511.9 656.5L530.3 644.5L534.3 643.1L561.3 643.3L600.3 653.3L624.3 660.9L646.3 663.8L665.3 662.9L689.3 657.1L732.9 636.5L738.3 635.3L850.3 634.2L1181.3 634.6M109.3 645.3L221.3 646.8L239.3 648.8L243.3 650L260 658.5L274 676.5L281 700.5L284 726.5M520 726.5L518.2 685.5L519.7 671.5L522.3 665.5L525.3 661.4L531.3 657.3L537.7 655.5L556.8 654.5L561.3 654.7L599.3 666.3L624.3 672.9L645.3 675.2L675.3 672L700.3 662.1L716.3 651.6L721.1 649.5L756.3 645.5L900.3 644.7L1181.3 645.3M109.3 658L179.3 657.9L220.3 658.7L234.3 660L239.3 661.4L247.5 665.5L251.3 668.2L257.3 677.7L260.1 683.5L263.4 702.5L263.8 726.5M550.6 726.5L556.4 703.5L561.2 694.5L562.3 685.3L565.5 685.5L570.3 687.4L580.3 686.9L588.3 688.6L645.3 689.6L672.3 689.1L701.3 681.9L743.3 666.3L782.3 658.5L900.3 656.3L1181.3 657.4M109.3 678.5L200.3 677.5L206.3 678.2L217.3 682.3L219.3 682.5L227.3 691L233.3 701.3L235.6 711.5L235.8 726.5M583.2 726.5L591.3 720.5L617 713.5L629.3 712.4L666 707.5L680.3 706.3L729.3 699L732.3 698.1L756.1 686.5L783.2 676.5L788.3 675.5L821.3 673L845 672.5L900.3 671.6L999.3 671.7L1181.3 678.5M120.3 726.5L125.3 723.1L137.3 718.2L164.3 715.4L167.3 716L173.3 718.7L176.1 721.5L179.7 726.5M769.2 726.5L786.3 715.4L817.3 700.5L848.3 696.4L901.3 693.9L1059.3 695.2L1097.3 699.7L1102.3 700.6L1130.3 708.2L1158.3 717.2L1164.3 720.7L1171.6 726.5" stroke="#141414" stroke-width="1" stroke-opacity="0.8" fill="none"/></g>
<rect x="109.3" y="11.5" width="1072.4" height="715.2" fill="none" stroke="#666" stroke-width="1"/>
<path d="M109.30 726.7v13.4M123.60 726.7v8.8M137.90 726.7v8.8M152.20 726.7v8.8M166.49 726.7v8.8M180.79 726.7v13.4M195.09 726.7v8.8M209.39 726.7v8.8M223.69 726.7v8.8M237.99 726.7v8.8M252.29 726.7v13.4M266.59 726.7v8.8M280.88 726.7v8.8M295.18 726.7v8.8M309.48 726.7v8.8M323.78 726.7v13.4M338.08 726.7v8.8M352.38 726.7v8.8M366.68 726.7v8.8M380.97 726.7v8.8M395.27 726.7v13.4M409.57 726.7v8.8M423.87 726.7v8.8M438.17 726.7v8.8M452.47 726.7v8.8M466.77 726.7v13.4M481.07 726.7v8.8M495.36 726.7v8.8M509.66 726.7v8.8M523.96 726.7v8.8M538.26 726.7v13.4M552.56 726.7v8.8M566.86 726.7v8.8M581.16 726.7v8.8M595.45 726.7v8.8M609.75 726.7v13.4M624.05 726.7v8.8M638.35 726.7v8.8M652.65 726.7v8.8M666.95 726.7v8.8M681.25 726.7v13.4M695.55 726.7v8.8M709.84 726.7v8.8M724.14 726.7v8.8M738.44 726.7v8.8M752.74 726.7v13.4M767.04 726.7v8.8M781.34 726.7v8.8M795.64 726.7v8.8M809.93 726.7v8.8M824.23 726.7v13.4M838.53 726.7v8.8M852.83 726.7v8.8M867.13 726.7v8.8M881.43 726.7v8.8M895.73 726.7v13.4M910.03 726.7v8.8M924.32 726.7v8.8M938.62 726.7v8.8M952.92 726.7v8.8M967.22 726.7v13.4M981.52 726.7v8.8M995.82 726.7v8.8M1010.12 726.7v8.8M1024.41 726.7v8.8M1038.71 726.7v13.4M1053.01 726.7v8.8M1067.31 726.7v8.8M1081.61 726.7v8.8M1095.91 726.7v8.8M1110.21 726.7v13.4M1124.51 726.7v8.8M1138.80 726.7v8.8M1153.10 726.7v8.8M1167.40 726.7v8.8M1181.70 726.7v13.4M109.3 726.70h-13M109.3 712.40h-8.7M109.3 698.11h-8.7M109.3 683.81h-8.7M109.3 669.52h-8.7M109.3 655.22h-13M109.3 640.92h-8.7M109.3 626.63h-8.7M109.3 612.33h-8.7M109.3 598.04h-8.7M109.3 583.74h-13M109.3 569.44h-8.7M109.3 555.15h-8.7M109.3 540.85h-8.7M109.3 526.56h-8.7M109.3 512.26h-13M109.3 497.96h-8.7M109.3 483.67h-8.7M109.3 469.37h-8.7M109.3 455.08h-8.7M109.3 440.78h-13M109.3 426.48h-8.7M109.3 412.19h-8.7M109.3 397.89h-8.7M109.3 383.60h-8.7M109.3 369.30h-13M109.3 355.00h-8.7M109.3 340.71h-8.7M109.3 326.41h-8.7M109.3 312.12h-8.7M109.3 297.82h-13M109.3 283.52h-8.7M109.3 269.23h-8.7M109.3 254.93h-8.7M109.3 240.64h-8.7M109.3 226.34h-13M109.3 212.04h-8.7M109.3 197.75h-8.7M109.3 183.45h-8.7M109.3 169.16h-8.7M109.3 154.86h-13M109.3 140.56h-8.7M109.3 126.27h-8.7M109.3 111.97h-8.7M109.3 97.68h-8.7M109.3 83.38h-13M109.3 69.08h-8.7M109.3 54.79h-8.7M109.3 40.49h-8.7M109.3 26.20h-8.7M109.3 11.90h-13" stroke="#555" stroke-width="1.3" fill="none"/>
<text transform="translate(109.3,765) scale(1,1.09)" text-anchor="middle" class="tk">0</text>
<text transform="translate(180.8,765) scale(1,1.09)" text-anchor="middle" class="tk">10</text>
<text transform="translate(252.3,765) scale(1,1.09)" text-anchor="middle" class="tk">20</text>
<text transform="translate(323.8,765) scale(1,1.09)" text-anchor="middle" class="tk">30</text>
<text transform="translate(395.3,765) scale(1,1.09)" text-anchor="middle" class="tk">40</text>
<text transform="translate(466.8,765) scale(1,1.09)" text-anchor="middle" class="tk">50</text>
<text transform="translate(538.3,765) scale(1,1.09)" text-anchor="middle" class="tk">60</text>
<text transform="translate(609.8,765) scale(1,1.09)" text-anchor="middle" class="tk">70</text>
<text transform="translate(681.2,765) scale(1,1.09)" text-anchor="middle" class="tk">80</text>
<text transform="translate(752.7,765) scale(1,1.09)" text-anchor="middle" class="tk">90</text>
<text transform="translate(824.2,765) scale(1,1.09)" text-anchor="middle" class="tk">100</text>
<text transform="translate(895.7,765) scale(1,1.09)" text-anchor="middle" class="tk">110</text>
<text transform="translate(967.2,765) scale(1,1.09)" text-anchor="middle" class="tk">120</text>
<text transform="translate(1038.7,765) scale(1,1.09)" text-anchor="middle" class="tk">130</text>
<text transform="translate(1110.2,765) scale(1,1.09)" text-anchor="middle" class="tk">140</text>
<text transform="translate(1181.7,765) scale(1,1.09)" text-anchor="middle" class="tk">150</text>
<text transform="translate(92.5,735.0) scale(1,1.09)" text-anchor="end" class="tk">0</text>
<text transform="translate(92.5,663.5) scale(1,1.09)" text-anchor="end" class="tk">10</text>
<text transform="translate(92.5,592.0) scale(1,1.09)" text-anchor="end" class="tk">20</text>
<text transform="translate(92.5,520.6) scale(1,1.09)" text-anchor="end" class="tk">30</text>
<text transform="translate(92.5,449.1) scale(1,1.09)" text-anchor="end" class="tk">40</text>
<text transform="translate(92.5,377.6) scale(1,1.09)" text-anchor="end" class="tk">50</text>
<text transform="translate(92.5,306.1) scale(1,1.09)" text-anchor="end" class="tk">60</text>
<text transform="translate(92.5,234.6) scale(1,1.09)" text-anchor="end" class="tk">70</text>
<text transform="translate(92.5,163.2) scale(1,1.09)" text-anchor="end" class="tk">80</text>
<text transform="translate(92.5,91.7) scale(1,1.09)" text-anchor="end" class="tk">90</text>
<text transform="translate(92.5,20.2) scale(1,1.09)" text-anchor="end" class="tk">100</text>
<text x="644.5" y="819" text-anchor="middle" class="ttl">Distance (m)</text>
<text transform="translate(33.3,369.5) rotate(-90)" text-anchor="middle" class="ttl">Depth (m)</text>
<text transform="translate(1241,139.2) scale(0.93,1)" text-anchor="middle" class="cbt">ρs (Ω·m)</text>
<rect x="1206" y="663.12" width="32" height="16.38" fill="#9b64ff"/>
<rect x="1206" y="647.04" width="32" height="16.38" fill="#5532fa"/>
<rect x="1206" y="630.97" width="32" height="16.38" fill="#2d23f0"/>
<rect x="1206" y="614.89" width="32" height="16.38" fill="#1e28e1"/>
<rect x="1206" y="598.81" width="32" height="16.38" fill="#0f32c8"/>
<rect x="1206" y="582.73" width="32" height="16.38" fill="#0f7387"/>
<rect x="1206" y="566.65" width="32" height="16.38" fill="#0fa55a"/>
<rect x="1206" y="550.58" width="32" height="16.38" fill="#00e123"/>
<rect x="1206" y="534.50" width="32" height="16.38" fill="#0af00f"/>
<rect x="1206" y="518.42" width="32" height="16.38" fill="#2df500"/>
<rect x="1206" y="502.34" width="32" height="16.38" fill="#4ef800"/>
<rect x="1206" y="486.26" width="32" height="16.38" fill="#69fa00"/>
<rect x="1206" y="470.18" width="32" height="16.38" fill="#80fc00"/>
<rect x="1206" y="454.11" width="32" height="16.38" fill="#92fe00"/>
<rect x="1206" y="438.03" width="32" height="16.38" fill="#9eff00"/>
<rect x="1206" y="421.95" width="32" height="16.38" fill="#acff00"/>
<rect x="1206" y="405.87" width="32" height="16.38" fill="#beff00"/>
<rect x="1206" y="389.79" width="32" height="16.38" fill="#ceff00"/>
<rect x="1206" y="373.72" width="32" height="16.38" fill="#deff00"/>
<rect x="1206" y="357.64" width="32" height="16.38" fill="#eeff00"/>
<rect x="1206" y="341.56" width="32" height="16.38" fill="#ffff00"/>
<rect x="1206" y="325.48" width="32" height="16.38" fill="#ffde00"/>
<rect x="1206" y="309.40" width="32" height="16.38" fill="#ffbe00"/>
<rect x="1206" y="293.33" width="32" height="16.38" fill="#ffa000"/>
<rect x="1206" y="277.25" width="32" height="16.38" fill="#ff8200"/>
<rect x="1206" y="261.17" width="32" height="16.38" fill="#ff6a00"/>
<rect x="1206" y="245.09" width="32" height="16.38" fill="#ff5600"/>
<rect x="1206" y="229.01" width="32" height="16.38" fill="#ff4300"/>
<rect x="1206" y="212.93" width="32" height="16.38" fill="#ff3300"/>
<rect x="1206" y="196.86" width="32" height="16.38" fill="#ff2300"/>
<rect x="1206" y="180.78" width="32" height="16.38" fill="#ff1400"/>
<rect x="1206" y="164.70" width="32" height="16.38" fill="#ff0000"/>
<path d="M1206 663.12h32M1206 647.04h32M1206 630.97h32M1206 614.89h32M1206 598.81h32M1206 582.73h32M1206 566.65h32M1206 550.58h32M1206 534.50h32M1206 518.42h32M1206 502.34h32M1206 486.26h32M1206 470.18h32M1206 454.11h32M1206 438.03h32M1206 421.95h32M1206 405.87h32M1206 389.79h32M1206 373.72h32M1206 357.64h32M1206 341.56h32M1206 325.48h32M1206 309.40h32M1206 293.33h32M1206 277.25h32M1206 261.17h32M1206 245.09h32M1206 229.01h32M1206 212.93h32M1206 196.86h32M1206 180.78h32" stroke="#222" stroke-width="1" fill="none"/>
<rect x="1206" y="164.7" width="32" height="514.5" fill="none" stroke="#333" stroke-width="1"/>
<text x="1243" y="685.2" class="cbl">40</text>
<text x="1243" y="653.0" class="cbl">60</text>
<text x="1243" y="620.9" class="cbl">80</text>
<text x="1243" y="588.7" class="cbl">120</text>
<text x="1243" y="556.6" class="cbl">160</text>
<text x="1243" y="524.4" class="cbl">200</text>
<text x="1243" y="492.3" class="cbl">230</text>
<text x="1243" y="460.1" class="cbl">243</text>
<text x="1243" y="428.0" class="cbl">260</text>
<text x="1243" y="395.8" class="cbl">280</text>
<text x="1243" y="363.6" class="cbl">300</text>
<text x="1243" y="331.5" class="cbl">340</text>
<text x="1243" y="299.3" class="cbl">380</text>
<text x="1243" y="267.2" class="cbl">420</text>
<text x="1243" y="235.0" class="cbl">460</text>
<text x="1243" y="202.9" class="cbl">500</text>
<text x="954.6" y="474.9" text-anchor="middle" class="cl" transform="rotate(0 954.6 466.6)">270</text>
<text x="983" y="583.3" text-anchor="middle" class="cl" transform="rotate(0 983 575)">340</text>
<text x="255" y="524.3" text-anchor="middle" class="cl" transform="rotate(70 255 516)">270</text>
<text x="258.5" y="609.8" text-anchor="middle" class="cl" transform="rotate(42 258.5 601.5)">340</text>
<text x="344" y="180.3" text-anchor="middle" class="cl" transform="rotate(-62 344 172)">100</text>
<text x="445" y="182.3" text-anchor="middle" class="cl" transform="rotate(56 445 174)">100</text>
<text x="270" y="237.3" text-anchor="middle" class="cl" transform="rotate(67 270 229)">200</text>
<text x="391" y="596.8" text-anchor="middle" class="cl" transform="rotate(0 391 588.5)">100</text>
<text x="390" y="636.9" text-anchor="middle" class="cl" transform="rotate(0 390 628.6)">200</text>
<text x="724" y="146.3" text-anchor="middle" class="cl" transform="rotate(-62 724 138)">200</text>
<text x="567.5" y="298.3" text-anchor="middle" class="cl" transform="rotate(-78 567.5 290)">200</text>
<text x="697" y="551.3" text-anchor="middle" class="cl" transform="rotate(-68 697 543)">200</text>
<text x="602" y="604.3" text-anchor="middle" class="cl" transform="rotate(26 602 596)">270</text>
<text x="584" y="622.3" text-anchor="middle" class="cl" transform="rotate(26 584 614)">340</text>
</svg>
</body></html>
